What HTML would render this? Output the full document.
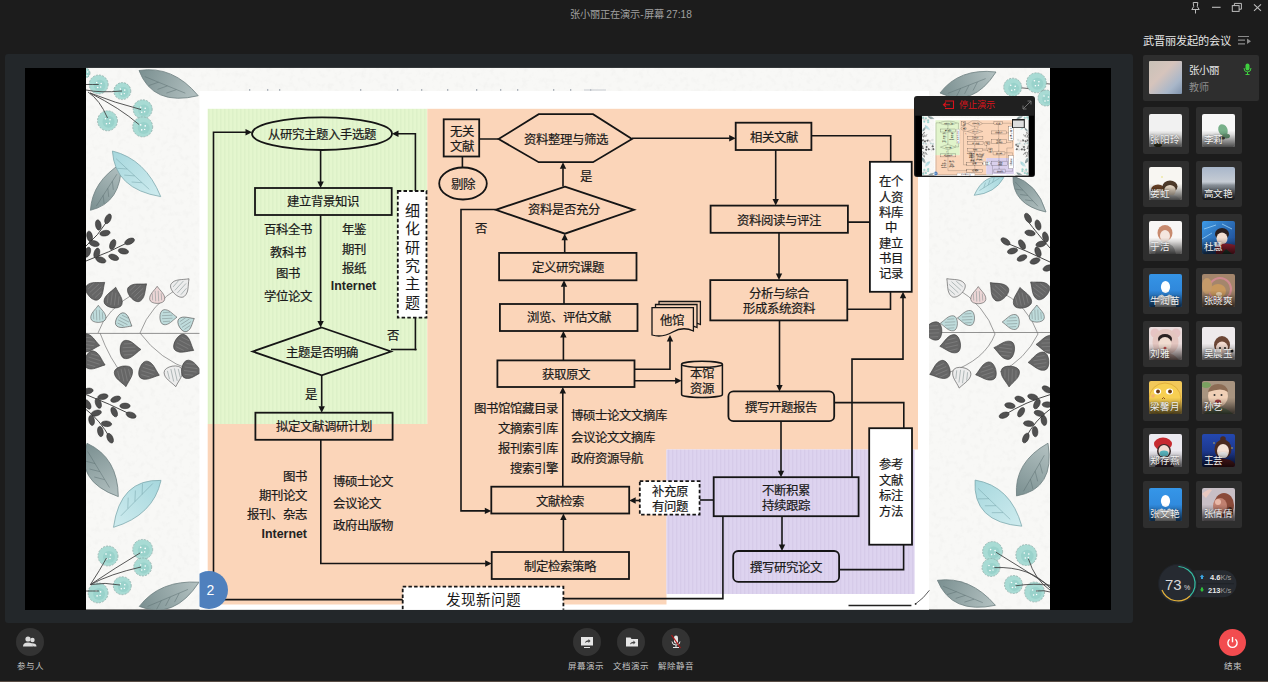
<!DOCTYPE html>
<html lang="zh-CN"><head><meta charset="utf-8"><title>meeting</title>
<style>
html,body{margin:0;padding:0;}
body{width:1268px;height:682px;overflow:hidden;background:#1c1c1c;position:relative;font-family:"Liberation Sans", sans-serif;}
.abs{position:absolute;}
#panel{left:5px;top:54.3px;width:1128px;height:569.2px;background:#23272a;border-radius:3px;}
#black{left:25px;top:67.7px;width:1086px;height:542px;background:#000;}
#slide{left:0;top:0;}

.tile{width:46px;height:46.5px;background:#2e2e2e;border-radius:2px;}
.av{position:absolute;left:6.3px;top:6.6px;width:33px;height:33px;border-radius:2px;overflow:hidden;}
.nm{position:absolute;left:7.5px;top:25px;width:40px;color:#f2f2f2;font-size:9.6px;white-space:nowrap;text-shadow:0 0 2px rgba(0,0,0,.6);letter-spacing:-0.3px;}
.side-ttl{left:1143px;top:31.5px;color:#e6e6e6;font-size:11.2px;}
#host{left:1142.7px;top:54.5px;width:116px;height:46.2px;background:#2e2e2e;border-radius:2px;}
.btn{width:28px;height:28px;border-radius:50%;background:#333;}
.lbl{color:#c4c4c4;font-size:8.5px;text-align:center;width:60px;}
#ov{left:913.7px;top:95.9px;width:121.7px;height:81.2px;background:#202020;border-radius:3px;}
.ttl{left:-3px;top:5.5px;width:1268px;text-align:center;color:#a0a0a0;font-size:10.2px;}
</style></head><body>
<div class="abs ttl">张小丽正在演示-屏幕 27:18</div>
<div class="abs" style="left:0;top:681px;width:1268px;height:1px;background:#574c44"></div>
<div class="abs" id="panel"></div>
<div class="abs" id="black"></div>
<svg class="abs" id="slide" width="1268" height="682" viewBox="0 0 1268 682" style="font-family:"Liberation Sans", sans-serif">
<defs><clipPath id="slc"><rect x="86" y="67.7" width="964" height="542"/></clipPath></defs>
<g id="sl" clip-path="url(#slc)">
<defs><pattern id="gst" width="4" height="10" patternUnits="userSpaceOnUse"><rect width="4" height="10" fill="#e4f6ce"/><rect width="1.5" height="10" fill="#ddf1c8"/></pattern><pattern id="pst" width="4" height="10" patternUnits="userSpaceOnUse"><rect width="4" height="10" fill="#ddd3ef"/><rect width="1.3" height="10" fill="#d6cbe9"/></pattern><filter id="tex" x="0" y="0" width="100%" height="100%"><feTurbulence type="fractalNoise" baseFrequency="0.18" numOctaves="3" seed="3"/><feColorMatrix values="0 0 0 0 0  0 0 0 0 0  0 0 0 0 0  0 0 0 -0.9 0.5"/></filter></defs>
<rect x="86" y="67.7" width="964" height="542" fill="#f8f8f6"/>
<rect x="86" y="67.7" width="964" height="542" filter="url(#tex)" opacity="0.05"/>
<circle cx="98.7" cy="84.5" r="9.5" fill="#a8dbd4" stroke="#8aa8a4" stroke-width="0.7" stroke-dasharray="2,1.2"/>
<circle cx="99.7" cy="85.5" r="5.7" fill="#93cfc7" opacity="0.7"/>
<circle cx="96.7" cy="82.5" r="0.8" fill="#fff"/><circle cx="101.2" cy="83.5" r="0.8" fill="#fff"/><circle cx="97.7" cy="87.5" r="0.8" fill="#fff"/><circle cx="100.7" cy="87.0" r="0.7" fill="#fff"/>
<circle cx="122.3" cy="91.1" r="8.5" fill="#a8dbd4" stroke="#8aa8a4" stroke-width="0.7" stroke-dasharray="2,1.2"/>
<circle cx="123.3" cy="92.1" r="5.1" fill="#93cfc7" opacity="0.7"/>
<circle cx="120.3" cy="89.1" r="0.8" fill="#fff"/><circle cx="124.8" cy="90.1" r="0.8" fill="#fff"/><circle cx="121.3" cy="94.1" r="0.8" fill="#fff"/><circle cx="124.3" cy="93.6" r="0.7" fill="#fff"/>
<circle cx="142.7" cy="109.3" r="9.5" fill="#a8dbd4" stroke="#8aa8a4" stroke-width="0.7" stroke-dasharray="2,1.2"/>
<circle cx="143.7" cy="110.3" r="5.7" fill="#93cfc7" opacity="0.7"/>
<circle cx="140.7" cy="107.3" r="0.8" fill="#fff"/><circle cx="145.2" cy="108.3" r="0.8" fill="#fff"/><circle cx="141.7" cy="112.3" r="0.8" fill="#fff"/><circle cx="144.7" cy="111.8" r="0.7" fill="#fff"/>
<circle cx="107.5" cy="120.8" r="10" fill="#a8dbd4" stroke="#8aa8a4" stroke-width="0.7" stroke-dasharray="2,1.2"/>
<circle cx="108.5" cy="121.8" r="6.0" fill="#93cfc7" opacity="0.7"/>
<circle cx="105.5" cy="118.8" r="0.8" fill="#fff"/><circle cx="110.0" cy="119.8" r="0.8" fill="#fff"/><circle cx="106.5" cy="123.8" r="0.8" fill="#fff"/><circle cx="109.5" cy="123.3" r="0.7" fill="#fff"/>
<circle cx="142.7" cy="126.9" r="10" fill="#a8dbd4" stroke="#8aa8a4" stroke-width="0.7" stroke-dasharray="2,1.2"/>
<circle cx="143.7" cy="127.9" r="6.0" fill="#93cfc7" opacity="0.7"/>
<circle cx="140.7" cy="124.9" r="0.8" fill="#fff"/><circle cx="145.2" cy="125.9" r="0.8" fill="#fff"/><circle cx="141.7" cy="129.9" r="0.8" fill="#fff"/><circle cx="144.7" cy="129.4" r="0.7" fill="#fff"/>
<circle cx="85" cy="73" r="5" fill="#a8dbd4" stroke="#8aa8a4" stroke-width="0.7" stroke-dasharray="2,1.2"/>
<circle cx="86" cy="74" r="3.0" fill="#93cfc7" opacity="0.7"/>
<circle cx="83" cy="71" r="0.8" fill="#fff"/><circle cx="87.5" cy="72" r="0.8" fill="#fff"/><circle cx="84" cy="76" r="0.8" fill="#fff"/><circle cx="87" cy="75.5" r="0.7" fill="#fff"/>
<path d="M86.0,84.5 Q92.0,84.5 98.7,84.5" fill="none" stroke="#444" stroke-width="0.9"/>
<path d="M86.0,90.0 Q100.0,93.0 122.0,91.0" fill="none" stroke="#444" stroke-width="0.9"/>
<path d="M88.0,92.0 Q100.0,100.0 107.5,118.0" fill="none" stroke="#444" stroke-width="0.9"/>
<path d="M90.0,93.0 Q115.0,103.0 141.0,109.5" fill="none" stroke="#444" stroke-width="0.9"/>
<path d="M90.0,93.0 Q120.0,108.0 139.0,124.5" fill="none" stroke="#444" stroke-width="0.9"/>
<defs><linearGradient id="lg1" gradientUnits="userSpaceOnUse" x1="139" y1="70.5" x2="198.2" y2="95.7"><stop offset="0" stop-color="#7a8f90"/><stop offset="1" stop-color="#b4c2c2"/></linearGradient></defs>
<path d="M139.0,70.5 Q152.9,106.8 198.2,95.7 Q172.8,65.1 139.0,70.5 Z" fill="url(#lg1)" stroke="#6d7f80" stroke-width="0.8"/>
<path d="M144.8,76.6 L185.3,93.2 M158.5,82.2 L148.7,85.6 M167.4,85.9 L157.5,89.4 M176.3,89.7 L166.4,93.1" stroke="#5b6e70" stroke-width="0.6" fill="none" opacity="0.8"/>
<defs><linearGradient id="lg2" gradientUnits="userSpaceOnUse" x1="90.4" y1="210.3" x2="121.2" y2="163.6"><stop offset="0" stop-color="#7a8f90"/><stop offset="1" stop-color="#b4c2c2"/></linearGradient></defs>
<path d="M90.4,210.3 Q121.7,202.8 121.2,163.6 Q92.3,181.4 90.4,210.3 Z" fill="url(#lg2)" stroke="#6d7f80" stroke-width="0.8"/>
<path d="M96.3,206.1 L116.9,174.2 M103.2,195.3 L104.1,203.9 M107.8,188.3 L108.7,196.9 M112.4,181.3 L113.3,189.9" stroke="#5b6e70" stroke-width="0.6" fill="none" opacity="0.8"/>
<defs><linearGradient id="lg3" gradientUnits="userSpaceOnUse" x1="112.4" y1="151" x2="160.7" y2="196.6"><stop offset="0" stop-color="#a6d7dd"/><stop offset="1" stop-color="#cfecef"/></linearGradient></defs>
<path d="M112.4,151.0 Q114.8,189.1 160.7,196.6 Q145.7,159.2 112.4,151.0 Z" fill="url(#lg3)" stroke="#7fa9ae" stroke-width="0.8"/>
<path d="M116.1,158.7 L149.3,189.4 M127.3,169.0 L117.1,168.3 M134.6,175.9 L124.3,175.1 M141.8,182.7 L131.6,182.0" stroke="#6f9ea4" stroke-width="0.6" fill="none" opacity="0.8"/>
<path d="M86,246 Q98,236 108,220" fill="none" stroke="#333" stroke-width="0.9"/>
<ellipse cx="108.0" cy="218.8" rx="5.2" ry="2.8" transform="rotate(-65 108.0 218.8)" fill="#505050" stroke="#2a2a2a" stroke-width="0.5"/>
<ellipse cx="98.3" cy="225.0" rx="5.2" ry="2.8" transform="rotate(-100 98.3 225.0)" fill="#505050" stroke="#2a2a2a" stroke-width="0.5"/>
<ellipse cx="105.0" cy="233.2" rx="5.2" ry="2.8" transform="rotate(-10 105.0 233.2)" fill="#505050" stroke="#2a2a2a" stroke-width="0.5"/>
<ellipse cx="89.6" cy="236.3" rx="5.2" ry="2.8" transform="rotate(-100 89.6 236.3)" fill="#505050" stroke="#2a2a2a" stroke-width="0.5"/>
<ellipse cx="94.2" cy="243.5" rx="5.2" ry="2.8" transform="rotate(15 94.2 243.5)" fill="#505050" stroke="#2a2a2a" stroke-width="0.5"/>
<path d="M86,261 Q110,252 129,242" fill="none" stroke="#333" stroke-width="0.9"/>
<ellipse cx="129.6" cy="241.4" rx="5.2" ry="2.8" transform="rotate(-25 129.6 241.4)" fill="#505050" stroke="#2a2a2a" stroke-width="0.5"/>
<ellipse cx="123.4" cy="251.2" rx="5.2" ry="2.8" transform="rotate(10 123.4 251.2)" fill="#505050" stroke="#2a2a2a" stroke-width="0.5"/>
<ellipse cx="112.7" cy="244.5" rx="5.2" ry="2.8" transform="rotate(-70 112.7 244.5)" fill="#505050" stroke="#2a2a2a" stroke-width="0.5"/>
<ellipse cx="113.7" cy="257.3" rx="5.2" ry="2.8" transform="rotate(20 113.7 257.3)" fill="#505050" stroke="#2a2a2a" stroke-width="0.5"/>
<ellipse cx="96.8" cy="253.2" rx="5.2" ry="2.8" transform="rotate(-75 96.8 253.2)" fill="#505050" stroke="#2a2a2a" stroke-width="0.5"/>
<ellipse cx="100.9" cy="259.9" rx="5.2" ry="2.8" transform="rotate(20 100.9 259.9)" fill="#505050" stroke="#2a2a2a" stroke-width="0.5"/>
<ellipse cx="87.5" cy="252.2" rx="5.2" ry="2.8" transform="rotate(-70 87.5 252.2)" fill="#505050" stroke="#2a2a2a" stroke-width="0.5"/>
<path d="M86,333.4 L200,333.4" stroke="#777" stroke-width="0.8"/>
<path d="M98.0,333.0 Q105.0,310.0 138.0,291.0" fill="none" stroke="#777" stroke-width="0.7"/>
<path d="M140.0,333.0 Q150.0,305.0 181.0,286.0" fill="none" stroke="#777" stroke-width="0.7"/>
<path d="M100.0,333.0 Q110.0,360.0 124.0,376.0" fill="none" stroke="#777" stroke-width="0.7"/>
<path d="M140.0,333.0 Q160.0,360.0 191.0,370.0" fill="none" stroke="#777" stroke-width="0.7"/>
<path d="M10.93,0 C4.86,-4.25 1.21,-9.71 -4.86,-9.11 C-11.54,-8.50 -11.54,8.50 -4.86,9.11 C1.21,9.71 4.86,4.25 10.93,0 Z" transform="translate(96.3 289.4) rotate(-40)" fill="#666666" stroke="#3a3a3a" stroke-width="0.6"/>
<path d="M-6.1,-5.5 L2.4,-6.1 M-7.3,-1.8 L5.5,-2.4 M-7.3,1.8 L5.5,1.2 M-6.1,5.5 L2.4,4.9" transform="translate(96.3 289.4) rotate(-40)" stroke="#8c8c8c" stroke-width="0.5"/>
<path d="M10.93,0 C4.86,-4.25 1.21,-9.71 -4.86,-9.11 C-11.54,-8.50 -11.54,8.50 -4.86,9.11 C1.21,9.71 4.86,4.25 10.93,0 Z" transform="translate(113.8 298) rotate(-80)" fill="#666666" stroke="#3a3a3a" stroke-width="0.6"/>
<path d="M-6.1,-5.5 L2.4,-6.1 M-7.3,-1.8 L5.5,-2.4 M-7.3,1.8 L5.5,1.2 M-6.1,5.5 L2.4,4.9" transform="translate(113.8 298) rotate(-80)" stroke="#8c8c8c" stroke-width="0.5"/>
<path d="M10.93,0 C4.86,-4.25 1.21,-9.71 -4.86,-9.11 C-11.54,-8.50 -11.54,8.50 -4.86,9.11 C1.21,9.71 4.86,4.25 10.93,0 Z" transform="translate(138.2 290.9) rotate(-40)" fill="#666666" stroke="#3a3a3a" stroke-width="0.6"/>
<path d="M-6.1,-5.5 L2.4,-6.1 M-7.3,-1.8 L5.5,-2.4 M-7.3,1.8 L5.5,1.2 M-6.1,5.5 L2.4,4.9" transform="translate(138.2 290.9) rotate(-40)" stroke="#8c8c8c" stroke-width="0.5"/>
<path d="M9.00,0 C4.00,-3.50 1.00,-8.00 -4.00,-7.50 C-9.50,-7.00 -9.50,7.00 -4.00,7.50 C1.00,8.00 4.00,3.50 9.00,0 Z" transform="translate(157.2 295.3) rotate(-90)" fill="#ecd6d6" stroke="#555" stroke-width="0.6"/>
<path d="M-5.0,-4.5 L2.0,-5.0 M-6.0,-1.5 L4.5,-2.0 M-6.0,1.5 L4.5,1.0 M-5.0,4.5 L2.0,4.0" transform="translate(157.2 295.3) rotate(-90)" stroke="#7a8a8a" stroke-width="0.5"/>
<path d="M10.93,0 C4.86,-4.25 1.21,-9.71 -4.86,-9.11 C-11.54,-8.50 -11.54,8.50 -4.86,9.11 C1.21,9.71 4.86,4.25 10.93,0 Z" transform="translate(181.3 286.5) rotate(-45)" fill="#ececec" stroke="#555" stroke-width="0.6"/>
<path d="M-6.1,-5.5 L2.4,-6.1 M-7.3,-1.8 L5.5,-2.4 M-7.3,1.8 L5.5,1.2 M-6.1,5.5 L2.4,4.9" transform="translate(181.3 286.5) rotate(-45)" stroke="#7a8a8a" stroke-width="0.5"/>
<path d="M9.00,0 C4.00,-3.50 1.00,-8.00 -4.00,-7.50 C-9.50,-7.00 -9.50,7.00 -4.00,7.50 C1.00,8.00 4.00,3.50 9.00,0 Z" transform="translate(98.3 314.3) rotate(-90)" fill="#bfdcdc" stroke="#555" stroke-width="0.6"/>
<path d="M-5.0,-4.5 L2.0,-5.0 M-6.0,-1.5 L4.5,-2.0 M-6.0,1.5 L4.5,1.0 M-5.0,4.5 L2.0,4.0" transform="translate(98.3 314.3) rotate(-90)" stroke="#7a8a8a" stroke-width="0.5"/>
<path d="M9.00,0 C4.00,-3.50 1.00,-8.00 -4.00,-7.50 C-9.50,-7.00 -9.50,7.00 -4.00,7.50 C1.00,8.00 4.00,3.50 9.00,0 Z" transform="translate(124.1 321.6) rotate(30)" fill="#bfdcdc" stroke="#555" stroke-width="0.6"/>
<path d="M-5.0,-4.5 L2.0,-5.0 M-6.0,-1.5 L4.5,-2.0 M-6.0,1.5 L4.5,1.0 M-5.0,4.5 L2.0,4.0" transform="translate(124.1 321.6) rotate(30)" stroke="#7a8a8a" stroke-width="0.5"/>
<path d="M9.00,0 C4.00,-3.50 1.00,-8.00 -4.00,-7.50 C-9.50,-7.00 -9.50,7.00 -4.00,7.50 C1.00,8.00 4.00,3.50 9.00,0 Z" transform="translate(168 317.2) rotate(0)" fill="#bfdcdc" stroke="#555" stroke-width="0.6"/>
<path d="M-5.0,-4.5 L2.0,-5.0 M-6.0,-1.5 L4.5,-2.0 M-6.0,1.5 L4.5,1.0 M-5.0,4.5 L2.0,4.0" transform="translate(168 317.2) rotate(0)" stroke="#7a8a8a" stroke-width="0.5"/>
<path d="M9.00,0 C4.00,-3.50 1.00,-8.00 -4.00,-7.50 C-9.50,-7.00 -9.50,7.00 -4.00,7.50 C1.00,8.00 4.00,3.50 9.00,0 Z" transform="translate(186.5 323) rotate(-30)" fill="#bfdcdc" stroke="#555" stroke-width="0.6"/>
<path d="M-5.0,-4.5 L2.0,-5.0 M-6.0,-1.5 L4.5,-2.0 M-6.0,1.5 L4.5,1.0 M-5.0,4.5 L2.0,4.0" transform="translate(186.5 323) rotate(-30)" stroke="#7a8a8a" stroke-width="0.5"/>
<path d="M10.93,0 C4.86,-4.25 1.21,-9.71 -4.86,-9.11 C-11.54,-8.50 -11.54,8.50 -4.86,9.11 C1.21,9.71 4.86,4.25 10.93,0 Z" transform="translate(89 343.6) rotate(10)" fill="#666666" stroke="#3a3a3a" stroke-width="0.6"/>
<path d="M-6.1,-5.5 L2.4,-6.1 M-7.3,-1.8 L5.5,-2.4 M-7.3,1.8 L5.5,1.2 M-6.1,5.5 L2.4,4.9" transform="translate(89 343.6) rotate(10)" stroke="#8c8c8c" stroke-width="0.5"/>
<path d="M10.93,0 C4.86,-4.25 1.21,-9.71 -4.86,-9.11 C-11.54,-8.50 -11.54,8.50 -4.86,9.11 C1.21,9.71 4.86,4.25 10.93,0 Z" transform="translate(130 349.5) rotate(0)" fill="#666666" stroke="#3a3a3a" stroke-width="0.6"/>
<path d="M-6.1,-5.5 L2.4,-6.1 M-7.3,-1.8 L5.5,-2.4 M-7.3,1.8 L5.5,1.2 M-6.1,5.5 L2.4,4.9" transform="translate(130 349.5) rotate(0)" stroke="#8c8c8c" stroke-width="0.5"/>
<path d="M10.93,0 C4.86,-4.25 1.21,-9.71 -4.86,-9.11 C-11.54,-8.50 -11.54,8.50 -4.86,9.11 C1.21,9.71 4.86,4.25 10.93,0 Z" transform="translate(184.2 345) rotate(30)" fill="#666666" stroke="#3a3a3a" stroke-width="0.6"/>
<path d="M-6.1,-5.5 L2.4,-6.1 M-7.3,-1.8 L5.5,-2.4 M-7.3,1.8 L5.5,1.2 M-6.1,5.5 L2.4,4.9" transform="translate(184.2 345) rotate(30)" stroke="#8c8c8c" stroke-width="0.5"/>
<path d="M10.93,0 C4.86,-4.25 1.21,-9.71 -4.86,-9.11 C-11.54,-8.50 -11.54,8.50 -4.86,9.11 C1.21,9.71 4.86,4.25 10.93,0 Z" transform="translate(94.8 361.2) rotate(20)" fill="#666666" stroke="#3a3a3a" stroke-width="0.6"/>
<path d="M-6.1,-5.5 L2.4,-6.1 M-7.3,-1.8 L5.5,-2.4 M-7.3,1.8 L5.5,1.2 M-6.1,5.5 L2.4,4.9" transform="translate(94.8 361.2) rotate(20)" stroke="#8c8c8c" stroke-width="0.5"/>
<path d="M10.93,0 C4.86,-4.25 1.21,-9.71 -4.86,-9.11 C-11.54,-8.50 -11.54,8.50 -4.86,9.11 C1.21,9.71 4.86,4.25 10.93,0 Z" transform="translate(124.1 375.9) rotate(80)" fill="#666666" stroke="#3a3a3a" stroke-width="0.6"/>
<path d="M-6.1,-5.5 L2.4,-6.1 M-7.3,-1.8 L5.5,-2.4 M-7.3,1.8 L5.5,1.2 M-6.1,5.5 L2.4,4.9" transform="translate(124.1 375.9) rotate(80)" stroke="#8c8c8c" stroke-width="0.5"/>
<path d="M10.93,0 C4.86,-4.25 1.21,-9.71 -4.86,-9.11 C-11.54,-8.50 -11.54,8.50 -4.86,9.11 C1.21,9.71 4.86,4.25 10.93,0 Z" transform="translate(149 371.5) rotate(20)" fill="#666666" stroke="#3a3a3a" stroke-width="0.6"/>
<path d="M-6.1,-5.5 L2.4,-6.1 M-7.3,-1.8 L5.5,-2.4 M-7.3,1.8 L5.5,1.2 M-6.1,5.5 L2.4,4.9" transform="translate(149 371.5) rotate(20)" stroke="#8c8c8c" stroke-width="0.5"/>
<path d="M10.93,0 C4.86,-4.25 1.21,-9.71 -4.86,-9.11 C-11.54,-8.50 -11.54,8.50 -4.86,9.11 C1.21,9.71 4.86,4.25 10.93,0 Z" transform="translate(173.9 375.9) rotate(80)" fill="#ececec" stroke="#555" stroke-width="0.6"/>
<path d="M-6.1,-5.5 L2.4,-6.1 M-7.3,-1.8 L5.5,-2.4 M-7.3,1.8 L5.5,1.2 M-6.1,5.5 L2.4,4.9" transform="translate(173.9 375.9) rotate(80)" stroke="#7a8a8a" stroke-width="0.5"/>
<path d="M10.93,0 C4.86,-4.25 1.21,-9.71 -4.86,-9.11 C-11.54,-8.50 -11.54,8.50 -4.86,9.11 C1.21,9.71 4.86,4.25 10.93,0 Z" transform="translate(191.5 370) rotate(10)" fill="#666666" stroke="#3a3a3a" stroke-width="0.6"/>
<path d="M-6.1,-5.5 L2.4,-6.1 M-7.3,-1.8 L5.5,-2.4 M-7.3,1.8 L5.5,1.2 M-6.1,5.5 L2.4,4.9" transform="translate(191.5 370) rotate(10)" stroke="#8c8c8c" stroke-width="0.5"/>
<path d="M86,394.6 Q110,404 131.1,414.6" fill="none" stroke="#333" stroke-width="0.9"/>
<ellipse cx="131.1" cy="415.1" rx="5.2" ry="2.8" transform="rotate(20 131.1 415.1)" fill="#505050" stroke="#2a2a2a" stroke-width="0.5"/>
<ellipse cx="125.0" cy="405.9" rx="5.2" ry="2.8" transform="rotate(0 125.0 405.9)" fill="#505050" stroke="#2a2a2a" stroke-width="0.5"/>
<ellipse cx="115.7" cy="399.2" rx="5.2" ry="2.8" transform="rotate(-20 115.7 399.2)" fill="#505050" stroke="#2a2a2a" stroke-width="0.5"/>
<ellipse cx="114.2" cy="412.0" rx="5.2" ry="2.8" transform="rotate(65 114.2 412.0)" fill="#505050" stroke="#2a2a2a" stroke-width="0.5"/>
<ellipse cx="102.9" cy="396.7" rx="5.2" ry="2.8" transform="rotate(-10 102.9 396.7)" fill="#505050" stroke="#2a2a2a" stroke-width="0.5"/>
<ellipse cx="98.3" cy="403.3" rx="5.2" ry="2.8" transform="rotate(70 98.3 403.3)" fill="#505050" stroke="#2a2a2a" stroke-width="0.5"/>
<ellipse cx="87.5" cy="404.4" rx="5.2" ry="2.8" transform="rotate(60 87.5 404.4)" fill="#505050" stroke="#2a2a2a" stroke-width="0.5"/>
<ellipse cx="88.0" cy="391.0" rx="5.2" ry="2.8" transform="rotate(-10 88.0 391.0)" fill="#505050" stroke="#2a2a2a" stroke-width="0.5"/>
<path d="M86,409.5 Q100,420 110.1,438.2" fill="none" stroke="#333" stroke-width="0.9"/>
<ellipse cx="110.1" cy="438.2" rx="5.2" ry="2.8" transform="rotate(65 110.1 438.2)" fill="#505050" stroke="#2a2a2a" stroke-width="0.5"/>
<ellipse cx="106.5" cy="423.8" rx="5.2" ry="2.8" transform="rotate(5 106.5 423.8)" fill="#505050" stroke="#2a2a2a" stroke-width="0.5"/>
<ellipse cx="100.4" cy="431.5" rx="5.2" ry="2.8" transform="rotate(80 100.4 431.5)" fill="#505050" stroke="#2a2a2a" stroke-width="0.5"/>
<ellipse cx="96.3" cy="413.1" rx="5.2" ry="2.8" transform="rotate(-15 96.3 413.1)" fill="#505050" stroke="#2a2a2a" stroke-width="0.5"/>
<ellipse cx="91.6" cy="420.3" rx="5.2" ry="2.8" transform="rotate(80 91.6 420.3)" fill="#505050" stroke="#2a2a2a" stroke-width="0.5"/>
<defs><linearGradient id="lg4" gradientUnits="userSpaceOnUse" x1="87" y1="443.3" x2="118.3" y2="496.6"><stop offset="0" stop-color="#7a8f90"/><stop offset="1" stop-color="#b4c2c2"/></linearGradient></defs>
<path d="M87.0,443.3 Q74.3,480.9 118.3,496.6 Q117.9,457.4 87.0,443.3 Z" fill="url(#lg4)" stroke="#6d7f80" stroke-width="0.8"/>
<path d="M87.7,451.5 L109.5,487.5 M95.1,463.6 L84.9,461.0 M99.8,471.6 L89.6,469.0 M104.5,479.6 L94.3,477.0" stroke="#5b6e70" stroke-width="0.6" fill="none" opacity="0.8"/>
<defs><linearGradient id="lg5" gradientUnits="userSpaceOnUse" x1="161" y1="480.4" x2="113.5" y2="527.3"><stop offset="0" stop-color="#a6d7dd"/><stop offset="1" stop-color="#cfecef"/></linearGradient></defs>
<path d="M161.0,480.4 Q120.0,478.8 113.5,527.3 Q153.3,515.4 161.0,480.4 Z" fill="url(#lg5)" stroke="#7fa9ae" stroke-width="0.8"/>
<path d="M152.8,483.5 L120.9,515.8 M142.1,494.5 L142.5,483.5 M134.9,501.5 L135.4,490.5 M127.8,508.5 L128.2,497.6" stroke="#6f9ea4" stroke-width="0.6" fill="none" opacity="0.8"/>
<circle cx="108" cy="556" r="10" fill="#a8dbd4" stroke="#8aa8a4" stroke-width="0.7" stroke-dasharray="2,1.2"/>
<circle cx="109" cy="557" r="6.0" fill="#93cfc7" opacity="0.7"/>
<circle cx="106" cy="554" r="0.8" fill="#fff"/><circle cx="110.5" cy="555" r="0.8" fill="#fff"/><circle cx="107" cy="559" r="0.8" fill="#fff"/><circle cx="110" cy="558.5" r="0.7" fill="#fff"/>
<circle cx="142.7" cy="549.4" r="10" fill="#a8dbd4" stroke="#8aa8a4" stroke-width="0.7" stroke-dasharray="2,1.2"/>
<circle cx="143.7" cy="550.4" r="6.0" fill="#93cfc7" opacity="0.7"/>
<circle cx="140.7" cy="547.4" r="0.8" fill="#fff"/><circle cx="145.2" cy="548.4" r="0.8" fill="#fff"/><circle cx="141.7" cy="552.4" r="0.8" fill="#fff"/><circle cx="144.7" cy="551.9" r="0.7" fill="#fff"/>
<circle cx="142.7" cy="567" r="9" fill="#a8dbd4" stroke="#8aa8a4" stroke-width="0.7" stroke-dasharray="2,1.2"/>
<circle cx="143.7" cy="568" r="5.4" fill="#93cfc7" opacity="0.7"/>
<circle cx="140.7" cy="565" r="0.8" fill="#fff"/><circle cx="145.2" cy="566" r="0.8" fill="#fff"/><circle cx="141.7" cy="570" r="0.8" fill="#fff"/><circle cx="144.7" cy="569.5" r="0.7" fill="#fff"/>
<circle cx="122.3" cy="585.7" r="9" fill="#a8dbd4" stroke="#8aa8a4" stroke-width="0.7" stroke-dasharray="2,1.2"/>
<circle cx="123.3" cy="586.7" r="5.4" fill="#93cfc7" opacity="0.7"/>
<circle cx="120.3" cy="583.7" r="0.8" fill="#fff"/><circle cx="124.8" cy="584.7" r="0.8" fill="#fff"/><circle cx="121.3" cy="588.7" r="0.8" fill="#fff"/><circle cx="124.3" cy="588.2" r="0.7" fill="#fff"/>
<circle cx="98.1" cy="592.9" r="10" fill="#a8dbd4" stroke="#8aa8a4" stroke-width="0.7" stroke-dasharray="2,1.2"/>
<circle cx="99.1" cy="593.9" r="6.0" fill="#93cfc7" opacity="0.7"/>
<circle cx="96.1" cy="590.9" r="0.8" fill="#fff"/><circle cx="100.6" cy="591.9" r="0.8" fill="#fff"/><circle cx="97.1" cy="595.9" r="0.8" fill="#fff"/><circle cx="100.1" cy="595.4" r="0.7" fill="#fff"/>
<path d="M90.4,584.6 Q100.0,570.0 106.5,558.0" fill="none" stroke="#444" stroke-width="0.9"/>
<path d="M90.4,584.6 Q115.0,568.0 140.0,553.0" fill="none" stroke="#444" stroke-width="0.9"/>
<path d="M90.4,584.6 Q110.0,574.0 141.0,567.0" fill="none" stroke="#444" stroke-width="0.9"/>
<path d="M90.4,584.6 Q105.0,582.0 120.0,585.0" fill="none" stroke="#444" stroke-width="0.9"/>
<path d="M86.0,591.0 Q92.0,591.0 99.0,591.0" fill="none" stroke="#444" stroke-width="0.9"/>
<defs><linearGradient id="lg6" gradientUnits="userSpaceOnUse" x1="139.3" y1="606.4" x2="199" y2="582.2"><stop offset="0" stop-color="#7a8f90"/><stop offset="1" stop-color="#b4c2c2"/></linearGradient></defs>
<path d="M139.3,606.4 Q174.1,620.3 199.0,582.2 Q159.8,579.8 139.3,606.4 Z" fill="url(#lg6)" stroke="#6d7f80" stroke-width="0.8"/>
<path d="M147.6,606.4 L188.0,589.4 M161.3,600.6 L156.5,609.5 M170.2,597.0 L165.5,605.9 M179.2,593.3 L174.5,602.2" stroke="#5b6e70" stroke-width="0.6" fill="none" opacity="0.8"/>
<defs><linearGradient id="lg7" gradientUnits="userSpaceOnUse" x1="940" y1="93" x2="996" y2="72"><stop offset="0" stop-color="#7a8f90"/><stop offset="1" stop-color="#b4c2c2"/></linearGradient></defs>
<path d="M940.0,93.0 Q972.6,108.5 996.0,72.0 Q959.3,67.7 940.0,93.0 Z" fill="url(#lg7)" stroke="#6d7f80" stroke-width="0.8"/>
<path d="M947.8,93.4 L985.7,78.6 M960.6,88.3 L956.2,96.9 M969.0,85.2 L964.6,93.8 M977.4,82.0 L973.0,90.6" stroke="#5b6e70" stroke-width="0.6" fill="none" opacity="0.8"/>
<path d="M1050.0,92.0 Q1030.0,88.0 1013.0,87.0" fill="none" stroke="#555" stroke-width="0.9"/>
<path d="M1050.0,84.0 Q1040.0,83.0 1036.0,83.0" fill="none" stroke="#555" stroke-width="0.9"/>
<circle cx="1012.7" cy="87.2" r="9" fill="#a8dbd4" stroke="#8aa8a4" stroke-width="0.7" stroke-dasharray="2,1.2"/>
<circle cx="1013.7" cy="88.2" r="5.4" fill="#93cfc7" opacity="0.7"/>
<circle cx="1010.7" cy="85.2" r="0.8" fill="#fff"/><circle cx="1015.2" cy="86.2" r="0.8" fill="#fff"/><circle cx="1011.7" cy="90.2" r="0.8" fill="#fff"/><circle cx="1014.7" cy="89.7" r="0.7" fill="#fff"/>
<circle cx="1036.4" cy="82.8" r="10" fill="#a8dbd4" stroke="#8aa8a4" stroke-width="0.7" stroke-dasharray="2,1.2"/>
<circle cx="1037.4" cy="83.8" r="6.0" fill="#93cfc7" opacity="0.7"/>
<circle cx="1034.4" cy="80.8" r="0.8" fill="#fff"/><circle cx="1038.9" cy="81.8" r="0.8" fill="#fff"/><circle cx="1035.4" cy="85.8" r="0.8" fill="#fff"/><circle cx="1038.4" cy="85.3" r="0.7" fill="#fff"/>
<circle cx="1046" cy="98" r="8" fill="#a8dbd4" stroke="#8aa8a4" stroke-width="0.7" stroke-dasharray="2,1.2"/>
<circle cx="1047" cy="99" r="4.8" fill="#93cfc7" opacity="0.7"/>
<circle cx="1044" cy="96" r="0.8" fill="#fff"/><circle cx="1048.5" cy="97" r="0.8" fill="#fff"/><circle cx="1045" cy="101" r="0.8" fill="#fff"/><circle cx="1048" cy="100.5" r="0.7" fill="#fff"/>
<defs><linearGradient id="lg8" gradientUnits="userSpaceOnUse" x1="1003.8" y1="177.5" x2="974.2" y2="195.3"><stop offset="0" stop-color="#a6d7dd"/><stop offset="1" stop-color="#cfecef"/></linearGradient></defs>
<path d="M1003.8,177.5 Q984.2,173.0 974.2,195.3 Q995.2,193.3 1003.8,177.5 Z" fill="url(#lg8)" stroke="#7fa9ae" stroke-width="0.8"/>
<path d="M999.4,178.2 L979.4,190.5 M992.6,182.4 L994.4,177.3 M988.2,185.1 L990.0,179.9 M983.8,187.8 L985.5,182.6" stroke="#6f9ea4" stroke-width="0.6" fill="none" opacity="0.8"/>
<defs><linearGradient id="lg9" gradientUnits="userSpaceOnUse" x1="1013" y1="176" x2="1046" y2="212"><stop offset="0" stop-color="#7a8f90"/><stop offset="1" stop-color="#b4c2c2"/></linearGradient></defs>
<path d="M1013.0,176.0 Q1012.1,204.6 1046.0,212.0 Q1037.4,183.4 1013.0,176.0 Z" fill="url(#lg9)" stroke="#6d7f80" stroke-width="0.8"/>
<path d="M1015.2,181.9 L1037.9,206.2 M1022.9,190.1 L1015.3,189.1 M1027.9,195.5 L1020.2,194.5 M1032.8,200.9 L1025.2,199.9" stroke="#5b6e70" stroke-width="0.6" fill="none" opacity="0.8"/>
<path d="M1050,262 Q1025,250 1004,242" fill="none" stroke="#333" stroke-width="0.9"/>
<ellipse cx="1005.5" cy="241.5" rx="5.2" ry="2.8" transform="rotate(35 1005.5 241.5)" fill="#505050" stroke="#2a2a2a" stroke-width="0.5"/>
<ellipse cx="1012.5" cy="251.0" rx="5.2" ry="2.8" transform="rotate(-15 1012.5 251.0)" fill="#505050" stroke="#2a2a2a" stroke-width="0.5"/>
<ellipse cx="1022.0" cy="244.5" rx="5.2" ry="2.8" transform="rotate(60 1022.0 244.5)" fill="#505050" stroke="#2a2a2a" stroke-width="0.5"/>
<ellipse cx="1022.0" cy="258.0" rx="5.2" ry="2.8" transform="rotate(-25 1022.0 258.0)" fill="#505050" stroke="#2a2a2a" stroke-width="0.5"/>
<ellipse cx="1038.0" cy="252.0" rx="5.2" ry="2.8" transform="rotate(70 1038.0 252.0)" fill="#505050" stroke="#2a2a2a" stroke-width="0.5"/>
<ellipse cx="1035.0" cy="261.0" rx="5.2" ry="2.8" transform="rotate(-20 1035.0 261.0)" fill="#505050" stroke="#2a2a2a" stroke-width="0.5"/>
<ellipse cx="1048.0" cy="268.0" rx="5.2" ry="2.8" transform="rotate(-20 1048.0 268.0)" fill="#505050" stroke="#2a2a2a" stroke-width="0.5"/>
<path d="M1050,248 Q1036,232 1028.7,222.3" fill="none" stroke="#333" stroke-width="0.9"/>
<ellipse cx="1028.0" cy="218.0" rx="5.2" ry="2.8" transform="rotate(60 1028.0 218.0)" fill="#505050" stroke="#2a2a2a" stroke-width="0.5"/>
<ellipse cx="1038.0" cy="225.0" rx="5.2" ry="2.8" transform="rotate(75 1038.0 225.0)" fill="#505050" stroke="#2a2a2a" stroke-width="0.5"/>
<ellipse cx="1030.0" cy="233.0" rx="5.2" ry="2.8" transform="rotate(10 1030.0 233.0)" fill="#505050" stroke="#2a2a2a" stroke-width="0.5"/>
<ellipse cx="1045.5" cy="237.0" rx="5.2" ry="2.8" transform="rotate(75 1045.5 237.0)" fill="#505050" stroke="#2a2a2a" stroke-width="0.5"/>
<ellipse cx="1041.0" cy="244.0" rx="5.2" ry="2.8" transform="rotate(-15 1041.0 244.0)" fill="#505050" stroke="#2a2a2a" stroke-width="0.5"/>
<path d="M929.5,332.5 L1050,332.5" stroke="#777" stroke-width="0.8"/>
<path d="M995.0,334.0 Q985.0,305.0 955.0,287.0" fill="none" stroke="#777" stroke-width="0.7"/>
<path d="M1038.0,334.0 Q1028.0,305.0 998.0,290.0" fill="none" stroke="#777" stroke-width="0.7"/>
<path d="M995.0,334.0 Q985.0,360.0 950.0,372.0" fill="none" stroke="#777" stroke-width="0.7"/>
<path d="M1038.0,334.0 Q1025.0,360.0 1000.0,372.0" fill="none" stroke="#777" stroke-width="0.7"/>
<path d="M10.93,0 C4.86,-4.25 1.21,-9.71 -4.86,-9.11 C-11.54,-8.50 -11.54,8.50 -4.86,9.11 C1.21,9.71 4.86,4.25 10.93,0 Z" transform="translate(954.5 286.4) rotate(-135)" fill="#ececec" stroke="#555" stroke-width="0.6"/>
<path d="M-6.1,-5.5 L2.4,-6.1 M-7.3,-1.8 L5.5,-2.4 M-7.3,1.8 L5.5,1.2 M-6.1,5.5 L2.4,4.9" transform="translate(954.5 286.4) rotate(-135)" stroke="#7a8a8a" stroke-width="0.5"/>
<path d="M9.00,0 C4.00,-3.50 1.00,-8.00 -4.00,-7.50 C-9.50,-7.00 -9.50,7.00 -4.00,7.50 C1.00,8.00 4.00,3.50 9.00,0 Z" transform="translate(978.3 295.6) rotate(-90)" fill="#ecd6d6" stroke="#555" stroke-width="0.6"/>
<path d="M-5.0,-4.5 L2.0,-5.0 M-6.0,-1.5 L4.5,-2.0 M-6.0,1.5 L4.5,1.0 M-5.0,4.5 L2.0,4.0" transform="translate(978.3 295.6) rotate(-90)" stroke="#7a8a8a" stroke-width="0.5"/>
<path d="M10.93,0 C4.86,-4.25 1.21,-9.71 -4.86,-9.11 C-11.54,-8.50 -11.54,8.50 -4.86,9.11 C1.21,9.71 4.86,4.25 10.93,0 Z" transform="translate(998 290.3) rotate(-135)" fill="#666666" stroke="#3a3a3a" stroke-width="0.6"/>
<path d="M-6.1,-5.5 L2.4,-6.1 M-7.3,-1.8 L5.5,-2.4 M-7.3,1.8 L5.5,1.2 M-6.1,5.5 L2.4,4.9" transform="translate(998 290.3) rotate(-135)" stroke="#8c8c8c" stroke-width="0.5"/>
<path d="M10.93,0 C4.86,-4.25 1.21,-9.71 -4.86,-9.11 C-11.54,-8.50 -11.54,8.50 -4.86,9.11 C1.21,9.71 4.86,4.25 10.93,0 Z" transform="translate(1021.8 298.2) rotate(-100)" fill="#666666" stroke="#3a3a3a" stroke-width="0.6"/>
<path d="M-6.1,-5.5 L2.4,-6.1 M-7.3,-1.8 L5.5,-2.4 M-7.3,1.8 L5.5,1.2 M-6.1,5.5 L2.4,4.9" transform="translate(1021.8 298.2) rotate(-100)" stroke="#8c8c8c" stroke-width="0.5"/>
<path d="M10.93,0 C4.86,-4.25 1.21,-9.71 -4.86,-9.11 C-11.54,-8.50 -11.54,8.50 -4.86,9.11 C1.21,9.71 4.86,4.25 10.93,0 Z" transform="translate(1039 289) rotate(-140)" fill="#666666" stroke="#3a3a3a" stroke-width="0.6"/>
<path d="M-6.1,-5.5 L2.4,-6.1 M-7.3,-1.8 L5.5,-2.4 M-7.3,1.8 L5.5,1.2 M-6.1,5.5 L2.4,4.9" transform="translate(1039 289) rotate(-140)" stroke="#8c8c8c" stroke-width="0.5"/>
<path d="M9.00,0 C4.00,-3.50 1.00,-8.00 -4.00,-7.50 C-9.50,-7.00 -9.50,7.00 -4.00,7.50 C1.00,8.00 4.00,3.50 9.00,0 Z" transform="translate(949.3 323.3) rotate(180)" fill="#bfdcdc" stroke="#555" stroke-width="0.6"/>
<path d="M-5.0,-4.5 L2.0,-5.0 M-6.0,-1.5 L4.5,-2.0 M-6.0,1.5 L4.5,1.0 M-5.0,4.5 L2.0,4.0" transform="translate(949.3 323.3) rotate(180)" stroke="#7a8a8a" stroke-width="0.5"/>
<path d="M9.00,0 C4.00,-3.50 1.00,-8.00 -4.00,-7.50 C-9.50,-7.00 -9.50,7.00 -4.00,7.50 C1.00,8.00 4.00,3.50 9.00,0 Z" transform="translate(966.4 318) rotate(180)" fill="#bfdcdc" stroke="#555" stroke-width="0.6"/>
<path d="M-5.0,-4.5 L2.0,-5.0 M-6.0,-1.5 L4.5,-2.0 M-6.0,1.5 L4.5,1.0 M-5.0,4.5 L2.0,4.0" transform="translate(966.4 318) rotate(180)" stroke="#7a8a8a" stroke-width="0.5"/>
<path d="M9.00,0 C4.00,-3.50 1.00,-8.00 -4.00,-7.50 C-9.50,-7.00 -9.50,7.00 -4.00,7.50 C1.00,8.00 4.00,3.50 9.00,0 Z" transform="translate(1011.2 322) rotate(180)" fill="#bfdcdc" stroke="#555" stroke-width="0.6"/>
<path d="M-5.0,-4.5 L2.0,-5.0 M-6.0,-1.5 L4.5,-2.0 M-6.0,1.5 L4.5,1.0 M-5.0,4.5 L2.0,4.0" transform="translate(1011.2 322) rotate(180)" stroke="#7a8a8a" stroke-width="0.5"/>
<path d="M9.00,0 C4.00,-3.50 1.00,-8.00 -4.00,-7.50 C-9.50,-7.00 -9.50,7.00 -4.00,7.50 C1.00,8.00 4.00,3.50 9.00,0 Z" transform="translate(1036.8 314) rotate(-90)" fill="#bfdcdc" stroke="#555" stroke-width="0.6"/>
<path d="M-5.0,-4.5 L2.0,-5.0 M-6.0,-1.5 L4.5,-2.0 M-6.0,1.5 L4.5,1.0 M-5.0,4.5 L2.0,4.0" transform="translate(1036.8 314) rotate(-90)" stroke="#7a8a8a" stroke-width="0.5"/>
<path d="M10.93,0 C4.86,-4.25 1.21,-9.71 -4.86,-9.11 C-11.54,-8.50 -11.54,8.50 -4.86,9.11 C1.21,9.71 4.86,4.25 10.93,0 Z" transform="translate(932 331) rotate(180)" fill="#666666" stroke="#3a3a3a" stroke-width="0.6"/>
<path d="M-6.1,-5.5 L2.4,-6.1 M-7.3,-1.8 L5.5,-2.4 M-7.3,1.8 L5.5,1.2 M-6.1,5.5 L2.4,4.9" transform="translate(932 331) rotate(180)" stroke="#8c8c8c" stroke-width="0.5"/>
<path d="M10.93,0 C4.86,-4.25 1.21,-9.71 -4.86,-9.11 C-11.54,-8.50 -11.54,8.50 -4.86,9.11 C1.21,9.71 4.86,4.25 10.93,0 Z" transform="translate(950.6 344.4) rotate(170)" fill="#666666" stroke="#3a3a3a" stroke-width="0.6"/>
<path d="M-6.1,-5.5 L2.4,-6.1 M-7.3,-1.8 L5.5,-2.4 M-7.3,1.8 L5.5,1.2 M-6.1,5.5 L2.4,4.9" transform="translate(950.6 344.4) rotate(170)" stroke="#8c8c8c" stroke-width="0.5"/>
<path d="M10.93,0 C4.86,-4.25 1.21,-9.71 -4.86,-9.11 C-11.54,-8.50 -11.54,8.50 -4.86,9.11 C1.21,9.71 4.86,4.25 10.93,0 Z" transform="translate(1004.6 349.6) rotate(-170)" fill="#666666" stroke="#3a3a3a" stroke-width="0.6"/>
<path d="M-6.1,-5.5 L2.4,-6.1 M-7.3,-1.8 L5.5,-2.4 M-7.3,1.8 L5.5,1.2 M-6.1,5.5 L2.4,4.9" transform="translate(1004.6 349.6) rotate(-170)" stroke="#8c8c8c" stroke-width="0.5"/>
<path d="M10.93,0 C4.86,-4.25 1.21,-9.71 -4.86,-9.11 C-11.54,-8.50 -11.54,8.50 -4.86,9.11 C1.21,9.71 4.86,4.25 10.93,0 Z" transform="translate(940 370.7) rotate(160)" fill="#666666" stroke="#3a3a3a" stroke-width="0.6"/>
<path d="M-6.1,-5.5 L2.4,-6.1 M-7.3,-1.8 L5.5,-2.4 M-7.3,1.8 L5.5,1.2 M-6.1,5.5 L2.4,4.9" transform="translate(940 370.7) rotate(160)" stroke="#8c8c8c" stroke-width="0.5"/>
<path d="M10.93,0 C4.86,-4.25 1.21,-9.71 -4.86,-9.11 C-11.54,-8.50 -11.54,8.50 -4.86,9.11 C1.21,9.71 4.86,4.25 10.93,0 Z" transform="translate(961.1 377.3) rotate(100)" fill="#ececec" stroke="#555" stroke-width="0.6"/>
<path d="M-6.1,-5.5 L2.4,-6.1 M-7.3,-1.8 L5.5,-2.4 M-7.3,1.8 L5.5,1.2 M-6.1,5.5 L2.4,4.9" transform="translate(961.1 377.3) rotate(100)" stroke="#7a8a8a" stroke-width="0.5"/>
<path d="M10.93,0 C4.86,-4.25 1.21,-9.71 -4.86,-9.11 C-11.54,-8.50 -11.54,8.50 -4.86,9.11 C1.21,9.71 4.86,4.25 10.93,0 Z" transform="translate(986.2 372) rotate(165)" fill="#666666" stroke="#3a3a3a" stroke-width="0.6"/>
<path d="M-6.1,-5.5 L2.4,-6.1 M-7.3,-1.8 L5.5,-2.4 M-7.3,1.8 L5.5,1.2 M-6.1,5.5 L2.4,4.9" transform="translate(986.2 372) rotate(165)" stroke="#8c8c8c" stroke-width="0.5"/>
<path d="M10.93,0 C4.86,-4.25 1.21,-9.71 -4.86,-9.11 C-11.54,-8.50 -11.54,8.50 -4.86,9.11 C1.21,9.71 4.86,4.25 10.93,0 Z" transform="translate(1010 376) rotate(95)" fill="#666666" stroke="#3a3a3a" stroke-width="0.6"/>
<path d="M-6.1,-5.5 L2.4,-6.1 M-7.3,-1.8 L5.5,-2.4 M-7.3,1.8 L5.5,1.2 M-6.1,5.5 L2.4,4.9" transform="translate(1010 376) rotate(95)" stroke="#8c8c8c" stroke-width="0.5"/>
<path d="M10.93,0 C4.86,-4.25 1.21,-9.71 -4.86,-9.11 C-11.54,-8.50 -11.54,8.50 -4.86,9.11 C1.21,9.71 4.86,4.25 10.93,0 Z" transform="translate(1039 361.5) rotate(175)" fill="#666666" stroke="#3a3a3a" stroke-width="0.6"/>
<path d="M-6.1,-5.5 L2.4,-6.1 M-7.3,-1.8 L5.5,-2.4 M-7.3,1.8 L5.5,1.2 M-6.1,5.5 L2.4,4.9" transform="translate(1039 361.5) rotate(175)" stroke="#8c8c8c" stroke-width="0.5"/>
<path d="M10.93,0 C4.86,-4.25 1.21,-9.71 -4.86,-9.11 C-11.54,-8.50 -11.54,8.50 -4.86,9.11 C1.21,9.71 4.86,4.25 10.93,0 Z" transform="translate(1047 344.4) rotate(180)" fill="#666666" stroke="#3a3a3a" stroke-width="0.6"/>
<path d="M-6.1,-5.5 L2.4,-6.1 M-7.3,-1.8 L5.5,-2.4 M-7.3,1.8 L5.5,1.2 M-6.1,5.5 L2.4,4.9" transform="translate(1047 344.4) rotate(180)" stroke="#8c8c8c" stroke-width="0.5"/>
<path d="M1050,394.7 Q1025,402 1004,415.2" fill="none" stroke="#333" stroke-width="0.9"/>
<ellipse cx="1004.1" cy="415.2" rx="5.2" ry="2.8" transform="rotate(-20 1004.1 415.2)" fill="#505050" stroke="#2a2a2a" stroke-width="0.5"/>
<ellipse cx="1009.9" cy="405.6" rx="5.2" ry="2.8" transform="rotate(10 1009.9 405.6)" fill="#505050" stroke="#2a2a2a" stroke-width="0.5"/>
<ellipse cx="1019.9" cy="399.3" rx="5.2" ry="2.8" transform="rotate(20 1019.9 399.3)" fill="#505050" stroke="#2a2a2a" stroke-width="0.5"/>
<ellipse cx="1021.1" cy="412.2" rx="5.2" ry="2.8" transform="rotate(-60 1021.1 412.2)" fill="#505050" stroke="#2a2a2a" stroke-width="0.5"/>
<ellipse cx="1032.8" cy="397.0" rx="5.2" ry="2.8" transform="rotate(15 1032.8 397.0)" fill="#505050" stroke="#2a2a2a" stroke-width="0.5"/>
<ellipse cx="1036.9" cy="404.0" rx="5.2" ry="2.8" transform="rotate(-65 1036.9 404.0)" fill="#505050" stroke="#2a2a2a" stroke-width="0.5"/>
<ellipse cx="1046.9" cy="389.4" rx="5.2" ry="2.8" transform="rotate(30 1046.9 389.4)" fill="#505050" stroke="#2a2a2a" stroke-width="0.5"/>
<path d="M1050,409.3 Q1035,420 1025.2,438.6" fill="none" stroke="#333" stroke-width="0.9"/>
<ellipse cx="1025.8" cy="438.0" rx="5.2" ry="2.8" transform="rotate(-65 1025.8 438.0)" fill="#505050" stroke="#2a2a2a" stroke-width="0.5"/>
<ellipse cx="1035.1" cy="431.6" rx="5.2" ry="2.8" transform="rotate(-95 1035.1 431.6)" fill="#505050" stroke="#2a2a2a" stroke-width="0.5"/>
<ellipse cx="1028.7" cy="423.6" rx="5.2" ry="2.8" transform="rotate(5 1028.7 423.6)" fill="#505050" stroke="#2a2a2a" stroke-width="0.5"/>
<ellipse cx="1043.9" cy="420.4" rx="5.2" ry="2.8" transform="rotate(-100 1043.9 420.4)" fill="#505050" stroke="#2a2a2a" stroke-width="0.5"/>
<ellipse cx="1039.2" cy="413.4" rx="5.2" ry="2.8" transform="rotate(15 1039.2 413.4)" fill="#505050" stroke="#2a2a2a" stroke-width="0.5"/>
<ellipse cx="1047.4" cy="404.6" rx="5.2" ry="2.8" transform="rotate(0 1047.4 404.6)" fill="#505050" stroke="#2a2a2a" stroke-width="0.5"/>
<defs><linearGradient id="lg10" gradientUnits="userSpaceOnUse" x1="1016.5" y1="495.9" x2="1048" y2="443.2"><stop offset="0" stop-color="#7a8f90"/><stop offset="1" stop-color="#b4c2c2"/></linearGradient></defs>
<path d="M1016.5,495.9 Q1055.5,489.2 1048.0,443.2 Q1013.9,462.2 1016.5,495.9 Z" fill="url(#lg10)" stroke="#6d7f80" stroke-width="0.8"/>
<path d="M1023.4,491.4 L1044.3,455.3 M1030.4,479.1 L1033.0,489.3 M1035.1,471.2 L1037.7,481.4 M1039.8,463.3 L1042.5,473.5" stroke="#5b6e70" stroke-width="0.6" fill="none" opacity="0.8"/>
<defs><linearGradient id="lg11" gradientUnits="userSpaceOnUse" x1="975.1" y1="480.1" x2="1021.8" y2="526.2"><stop offset="0" stop-color="#a6d7dd"/><stop offset="1" stop-color="#cfecef"/></linearGradient></defs>
<path d="M975.1,480.1 Q972.2,522.2 1021.8,526.2 Q1010.7,486.0 975.1,480.1 Z" fill="url(#lg11)" stroke="#7fa9ae" stroke-width="0.8"/>
<path d="M978.0,488.4 L1010.2,519.3 M989.0,498.7 L977.7,498.9 M996.0,505.7 L984.8,505.8 M1003.0,512.6 L991.8,512.7" stroke="#6f9ea4" stroke-width="0.6" fill="none" opacity="0.8"/>
<circle cx="992.6" cy="551.6" r="10" fill="#a8dbd4" stroke="#8aa8a4" stroke-width="0.7" stroke-dasharray="2,1.2"/>
<circle cx="993.6" cy="552.6" r="6.0" fill="#93cfc7" opacity="0.7"/>
<circle cx="990.6" cy="549.6" r="0.8" fill="#fff"/><circle cx="995.1" cy="550.6" r="0.8" fill="#fff"/><circle cx="991.6" cy="554.6" r="0.8" fill="#fff"/><circle cx="994.6" cy="554.1" r="0.7" fill="#fff"/>
<circle cx="991" cy="567.5" r="9" fill="#a8dbd4" stroke="#8aa8a4" stroke-width="0.7" stroke-dasharray="2,1.2"/>
<circle cx="992" cy="568.5" r="5.4" fill="#93cfc7" opacity="0.7"/>
<circle cx="989" cy="565.5" r="0.8" fill="#fff"/><circle cx="993.5" cy="566.5" r="0.8" fill="#fff"/><circle cx="990" cy="570.5" r="0.8" fill="#fff"/><circle cx="993" cy="570.0" r="0.7" fill="#fff"/>
<circle cx="1026.3" cy="555" r="10.5" fill="#a8dbd4" stroke="#8aa8a4" stroke-width="0.7" stroke-dasharray="2,1.2"/>
<circle cx="1027.3" cy="556" r="6.3" fill="#93cfc7" opacity="0.7"/>
<circle cx="1024.3" cy="553" r="0.8" fill="#fff"/><circle cx="1028.8" cy="554" r="0.8" fill="#fff"/><circle cx="1025.3" cy="558" r="0.8" fill="#fff"/><circle cx="1028.3" cy="557.5" r="0.7" fill="#fff"/>
<circle cx="1013.5" cy="584.5" r="9" fill="#a8dbd4" stroke="#8aa8a4" stroke-width="0.7" stroke-dasharray="2,1.2"/>
<circle cx="1014.5" cy="585.5" r="5.4" fill="#93cfc7" opacity="0.7"/>
<circle cx="1011.5" cy="582.5" r="0.8" fill="#fff"/><circle cx="1016.0" cy="583.5" r="0.8" fill="#fff"/><circle cx="1012.5" cy="587.5" r="0.8" fill="#fff"/><circle cx="1015.5" cy="587.0" r="0.7" fill="#fff"/>
<circle cx="1034.6" cy="592" r="10" fill="#a8dbd4" stroke="#8aa8a4" stroke-width="0.7" stroke-dasharray="2,1.2"/>
<circle cx="1035.6" cy="593" r="6.0" fill="#93cfc7" opacity="0.7"/>
<circle cx="1032.6" cy="590" r="0.8" fill="#fff"/><circle cx="1037.1" cy="591" r="0.8" fill="#fff"/><circle cx="1033.6" cy="595" r="0.8" fill="#fff"/><circle cx="1036.6" cy="594.5" r="0.7" fill="#fff"/>
<path d="M996.1,552.3 Q1025.0,570.0 1050.0,586.3" fill="none" stroke="#444" stroke-width="0.9"/>
<path d="M994.4,567.6 Q1030.0,566.0 1050.0,588.0" fill="none" stroke="#444" stroke-width="0.9"/>
<path d="M1028.4,558.8 Q1035.0,580.0 1050.0,590.0" fill="none" stroke="#444" stroke-width="0.9"/>
<path d="M1015.5,585.8 Q1035.0,583.0 1050.0,585.2" fill="none" stroke="#444" stroke-width="0.9"/>
<path d="M1036.0,591.0 Q1045.0,590.0 1050.0,592.0" fill="none" stroke="#444" stroke-width="0.9"/>
<defs><linearGradient id="lg12" gradientUnits="userSpaceOnUse" x1="937.4" y1="580.3" x2="995.4" y2="605.3"><stop offset="0" stop-color="#7a8f90"/><stop offset="1" stop-color="#b4c2c2"/></linearGradient></defs>
<path d="M937.4,580.3 Q951.5,614.7 995.4,605.3 Q970.2,576.0 937.4,580.3 Z" fill="url(#lg12)" stroke="#6d7f80" stroke-width="0.8"/>
<path d="M943.1,586.2 L982.8,602.7 M956.6,591.7 L947.0,594.6 M965.3,595.4 L955.7,598.4 M974.0,599.2 L964.4,602.1" stroke="#5b6e70" stroke-width="0.6" fill="none" opacity="0.8"/>
<rect x="199.5" y="91" width="729.5" height="519" fill="#ffffff"/>
<rect x="207.7" y="108.8" width="219.6" height="315.2" fill="url(#gst)"/>
<rect x="427.3" y="108.8" width="490.7" height="340.7" fill="#fbd5b9"/>
<rect x="207.7" y="424" width="458.8" height="180.5" fill="#fbd5b9"/>
<rect x="666.4" y="449.5" width="248.2" height="144.5" fill="url(#pst)"/>
<rect x="249" y="89.3" width="1.3" height="1.3" fill="#8a93a0"/>
<rect x="267" y="89.3" width="1.3" height="1.3" fill="#8a93a0"/>
<rect x="279" y="89.3" width="1.3" height="1.3" fill="#8a93a0"/>
<rect x="360" y="89.3" width="1.3" height="1.3" fill="#8a93a0"/>
<rect x="397" y="89.3" width="1.3" height="1.3" fill="#8a93a0"/>
<rect x="421" y="89.3" width="1.3" height="1.3" fill="#8a93a0"/>
<rect x="447" y="89.3" width="1.3" height="1.3" fill="#8a93a0"/>
<rect x="476" y="89.3" width="1.3" height="1.3" fill="#8a93a0"/>
<rect x="500" y="89.3" width="1.3" height="1.3" fill="#8a93a0"/>
<rect x="517" y="89.3" width="1.3" height="1.3" fill="#8a93a0"/>
<rect x="553" y="89.3" width="1.3" height="1.3" fill="#8a93a0"/>
<rect x="570" y="89.3" width="1.3" height="1.3" fill="#8a93a0"/>
<rect x="590" y="89.3" width="1.3" height="1.3" fill="#8a93a0"/>
<rect x="584" y="89.5" width="22" height="1" fill="#c8ccd2"/>
<ellipse cx="322" cy="133.7" rx="70" ry="16.3" fill="none" stroke="#151515" stroke-width="1.8"/>
<text x="322.0" y="139.1" font-size="12.4" text-anchor="middle" font-weight="500" fill="#1a1a1a" stroke="#1a1a1a" stroke-width="0.2">从研究主题入手选题</text>
<path d="M320.6,150.0 L320.6,182.0" fill="none" stroke="#151515" stroke-width="1.6"/>
<path d="M320.6,188.0 L317.4,181.5 L323.8,181.5 Z" fill="#151515"/>
<rect x="255.0" y="188.0" width="136.7" height="27.0" rx="0" fill="none" stroke="#151515" stroke-width="1.8"/>
<text x="323.3" y="206.0" font-size="12.4" text-anchor="middle" font-weight="500" fill="#1a1a1a" stroke="#1a1a1a" stroke-width="0.2">建立背景知识</text>
<path d="M213.5,599.6 L213.5,132.3 L246.0,132.3" fill="none" stroke="#151515" stroke-width="1.6"/>
<path d="M252.0,132.3 L245.5,129.1 L245.5,135.5 Z" fill="#151515"/>
<text x="288.0" y="233.9" font-size="12.4" text-anchor="middle" font-weight="500" fill="#1a1a1a" stroke="#1a1a1a" stroke-width="0.2">百科全书</text>
<text x="288.0" y="256.7" font-size="12.4" text-anchor="middle" font-weight="500" fill="#1a1a1a" stroke="#1a1a1a" stroke-width="0.2">教科书</text>
<text x="288.0" y="277.8" font-size="12.4" text-anchor="middle" font-weight="500" fill="#1a1a1a" stroke="#1a1a1a" stroke-width="0.2">图书</text>
<text x="288.0" y="300.7" font-size="12.4" text-anchor="middle" font-weight="500" fill="#1a1a1a" stroke="#1a1a1a" stroke-width="0.2">学位论文</text>
<text x="353.5" y="233.5" font-size="12.4" text-anchor="middle" font-weight="500" fill="#1a1a1a" stroke="#1a1a1a" stroke-width="0.2">年鉴</text>
<text x="353.5" y="253.5" font-size="12.4" text-anchor="middle" font-weight="500" fill="#1a1a1a" stroke="#1a1a1a" stroke-width="0.2">期刊</text>
<text x="353.5" y="272.5" font-size="12.4" text-anchor="middle" font-weight="500" fill="#1a1a1a" stroke="#1a1a1a" stroke-width="0.2">报纸</text>
<text x="353.5" y="290.1" font-size="12.4" text-anchor="middle" font-weight="bold" fill="#222">Internet</text>
<path d="M320.6,215.0 L320.6,321.5" fill="none" stroke="#151515" stroke-width="1.6"/>
<path d="M320.6,327.5 L317.4,321.0 L323.8,321.0 Z" fill="#151515"/>
<rect x="397.8" y="191.0" width="28.7" height="126.6" rx="0" fill="#ffffff" stroke="#151515" stroke-width="1.8" stroke-dasharray="3.5,2.2"/>
<text x="412.0" y="216.1" font-size="15" text-anchor="middle" font-weight="normal" fill="#1a1a1a">细</text>
<text x="412.0" y="234.4" font-size="15" text-anchor="middle" font-weight="normal" fill="#1a1a1a">化</text>
<text x="412.0" y="252.7" font-size="15" text-anchor="middle" font-weight="normal" fill="#1a1a1a">研</text>
<text x="412.0" y="271.0" font-size="15" text-anchor="middle" font-weight="normal" fill="#1a1a1a">究</text>
<text x="412.0" y="289.3" font-size="15" text-anchor="middle" font-weight="normal" fill="#1a1a1a">主</text>
<text x="412.0" y="307.6" font-size="15" text-anchor="middle" font-weight="normal" fill="#1a1a1a">题</text>
<path d="M415.4,191.0 L415.4,133.8 L398.0,133.8" fill="none" stroke="#151515" stroke-width="1.6"/>
<path d="M392.0,133.8 L398.5,130.6 L398.5,137.0 Z" fill="#151515"/>
<path d="M321.7,327.5 L391,351.5 L321.7,375.3 L252.7,351.5 Z" fill="none" stroke="#151515" stroke-width="1.8"/>
<text x="322.0" y="356.5" font-size="12.4" text-anchor="middle" font-weight="500" fill="#1a1a1a" stroke="#1a1a1a" stroke-width="0.2">主题是否明确</text>
<path d="M391.0,349.5 L416.6,349.5" fill="none" stroke="#151515" stroke-width="1.6"/>
<path d="M415.4,317.6 L415.4,350.3" fill="none" stroke="#151515" stroke-width="1.6"/>
<text x="393.0" y="339.5" font-size="12.4" text-anchor="middle" font-weight="500" fill="#1a1a1a" stroke="#1a1a1a" stroke-width="0.2">否</text>
<path d="M321.7,375.3 L321.7,406.7" fill="none" stroke="#151515" stroke-width="1.6"/>
<path d="M321.7,412.7 L318.5,406.2 L324.9,406.2 Z" fill="#151515"/>
<text x="310.8" y="398.7" font-size="12.4" text-anchor="middle" font-weight="500" fill="#1a1a1a" stroke="#1a1a1a" stroke-width="0.2">是</text>
<rect x="255.4" y="412.7" width="137.2" height="27.1" rx="0" fill="none" stroke="#151515" stroke-width="1.8"/>
<text x="324.0" y="430.8" font-size="12.4" text-anchor="middle" font-weight="500" fill="#1a1a1a" stroke="#1a1a1a" stroke-width="0.2">拟定文献调研计划</text>
<path d="M320.8,439.8 L320.8,563.5 L485.7,563.5" fill="none" stroke="#151515" stroke-width="1.6"/>
<path d="M491.7,563.5 L485.2,560.3 L485.2,566.7 Z" fill="#151515"/>
<text x="307.0" y="480.5" font-size="12.4" text-anchor="end" font-weight="500" fill="#1a1a1a" stroke="#1a1a1a" stroke-width="0.2">图书</text>
<text x="307.0" y="499.5" font-size="12.4" text-anchor="end" font-weight="500" fill="#1a1a1a" stroke="#1a1a1a" stroke-width="0.2">期刊论文</text>
<text x="307.0" y="518.9" font-size="12.4" text-anchor="end" font-weight="500" fill="#1a1a1a" stroke="#1a1a1a" stroke-width="0.2">报刊、杂志</text>
<text x="307.0" y="538.1" font-size="12.4" text-anchor="end" font-weight="bold" fill="#222">Internet</text>
<text x="332.8" y="485.5" font-size="12.4" text-anchor="start" font-weight="500" fill="#1a1a1a" stroke="#1a1a1a" stroke-width="0.2">博硕士论文</text>
<text x="332.8" y="508.1" font-size="12.4" text-anchor="start" font-weight="500" fill="#1a1a1a" stroke="#1a1a1a" stroke-width="0.2">会议论文</text>
<text x="332.8" y="529.7" font-size="12.4" text-anchor="start" font-weight="500" fill="#1a1a1a" stroke="#1a1a1a" stroke-width="0.2">政府出版物</text>
<rect x="491.7" y="552.0" width="137.3" height="27.0" rx="0" fill="none" stroke="#151515" stroke-width="1.8"/>
<text x="560.4" y="570.5" font-size="12.4" text-anchor="middle" font-weight="500" fill="#1a1a1a" stroke="#1a1a1a" stroke-width="0.2">制定检索策略</text>
<path d="M563.4,552.0 L563.4,519.5" fill="none" stroke="#151515" stroke-width="1.6"/>
<path d="M563.4,513.5 L560.2,520.0 L566.6,520.0 Z" fill="#151515"/>
<rect x="491.3" y="486.7" width="137.9" height="26.8" rx="0" fill="none" stroke="#151515" stroke-width="1.8"/>
<text x="560.3" y="505.5" font-size="12.4" text-anchor="middle" font-weight="500" fill="#1a1a1a" stroke="#1a1a1a" stroke-width="0.2">文献检索</text>
<path d="M495.8,209.5 L461.0,209.5 L461.0,510.9 L485.3,510.9" fill="none" stroke="#151515" stroke-width="1.6"/>
<path d="M491.3,510.9 L484.8,507.7 L484.8,514.1 Z" fill="#151515"/>
<text x="480.5" y="232.5" font-size="12.4" text-anchor="middle" font-weight="500" fill="#1a1a1a" stroke="#1a1a1a" stroke-width="0.2">否</text>
<path d="M562.8,486.7 L562.8,393.0" fill="none" stroke="#151515" stroke-width="1.6"/>
<path d="M562.8,387.0 L559.6,393.5 L566.0,393.5 Z" fill="#151515"/>
<rect x="497.4" y="360.4" width="137.1" height="26.6" rx="0" fill="none" stroke="#151515" stroke-width="1.8"/>
<text x="566.0" y="378.5" font-size="12.4" text-anchor="middle" font-weight="500" fill="#1a1a1a" stroke="#1a1a1a" stroke-width="0.2">获取原文</text>
<path d="M563.4,360.4 L563.4,337.0" fill="none" stroke="#151515" stroke-width="1.6"/>
<path d="M563.4,331.0 L560.2,337.5 L566.6,337.5 Z" fill="#151515"/>
<rect x="499.9" y="304.0" width="137.6" height="27.0" rx="0" fill="none" stroke="#151515" stroke-width="1.8"/>
<text x="568.7" y="322.2" font-size="12.4" text-anchor="middle" font-weight="500" fill="#1a1a1a" stroke="#1a1a1a" stroke-width="0.2">浏览、评估文献</text>
<path d="M564.0,304.0 L564.0,286.3" fill="none" stroke="#151515" stroke-width="1.6"/>
<path d="M564.0,280.3 L560.8,286.8 L567.2,286.8 Z" fill="#151515"/>
<rect x="499.1" y="252.9" width="137.4" height="27.4" rx="0" fill="none" stroke="#151515" stroke-width="1.8"/>
<text x="567.8" y="271.9" font-size="12.4" text-anchor="middle" font-weight="500" fill="#1a1a1a" stroke="#1a1a1a" stroke-width="0.2">定义研究课题</text>
<path d="M564.7,252.9 L564.7,239.7" fill="none" stroke="#151515" stroke-width="1.6"/>
<path d="M564.7,233.7 L561.5,240.2 L567.9,240.2 Z" fill="#151515"/>
<path d="M564.9,186.6 L634,209.8 L564.9,233.7 L495.8,209.8 Z" fill="none" stroke="#151515" stroke-width="1.8"/>
<text x="563.5" y="214.4" font-size="12.4" text-anchor="middle" font-weight="500" fill="#1a1a1a" stroke="#1a1a1a" stroke-width="0.2">资料是否充分</text>
<path d="M563.0,186.6 L563.0,168.2" fill="none" stroke="#151515" stroke-width="1.6"/>
<path d="M563.0,162.2 L559.8,168.7 L566.2,168.7 Z" fill="#151515"/>
<text x="586.3" y="180.5" font-size="12.4" text-anchor="middle" font-weight="500" fill="#1a1a1a" stroke="#1a1a1a" stroke-width="0.2">是</text>
<path d="M498.6,139 L538.7,114.2 L593,114.2 L632,139 L593,162.2 L538.7,162.2 Z" fill="none" stroke="#151515" stroke-width="1.8"/>
<text x="566.0" y="143.8" font-size="12.4" text-anchor="middle" font-weight="500" fill="#1a1a1a" stroke="#1a1a1a" stroke-width="0.2">资料整理与筛选</text>
<path d="M479.2,139.0 L498.6,139.0" fill="none" stroke="#151515" stroke-width="1.6"/>
<rect x="443.7" y="119.3" width="35.5" height="37.2" rx="0" fill="none" stroke="#151515" stroke-width="1.8"/>
<text x="461.5" y="136.2" font-size="12.4" text-anchor="middle" font-weight="500" fill="#1a1a1a" stroke="#1a1a1a" stroke-width="0.2">无关</text>
<text x="461.5" y="150.5" font-size="12.4" text-anchor="middle" font-weight="500" fill="#1a1a1a" stroke="#1a1a1a" stroke-width="0.2">文献</text>
<path d="M462.4,156.5 L462.4,167.5" fill="none" stroke="#151515" stroke-width="1.6"/>
<ellipse cx="463" cy="183.5" rx="23.8" ry="16" fill="none" stroke="#151515" stroke-width="1.8"/>
<text x="463.0" y="188.5" font-size="12.4" text-anchor="middle" font-weight="500" fill="#1a1a1a" stroke="#1a1a1a" stroke-width="0.2">剔除</text>
<path d="M632.0,138.3 L729.7,138.3" fill="none" stroke="#151515" stroke-width="1.6"/>
<path d="M735.7,138.3 L729.2,135.1 L729.2,141.5 Z" fill="#151515"/>
<rect x="735.7" y="122.7" width="75.7" height="27.3" rx="0" fill="none" stroke="#151515" stroke-width="1.8"/>
<text x="773.5" y="142.1" font-size="12.4" text-anchor="middle" font-weight="500" fill="#1a1a1a" stroke="#1a1a1a" stroke-width="0.2">相关文献</text>
<path d="M811.4,135.8 L890.7,135.8 L890.7,161.8" fill="none" stroke="#151515" stroke-width="1.6"/>
<rect x="869.9" y="161.8" width="41.8" height="130.0" rx="0" fill="#ffffff" stroke="#151515" stroke-width="1.8"/>
<text x="890.5" y="186.4" font-size="12.4" text-anchor="middle" font-weight="500" fill="#1a1a1a" stroke="#1a1a1a" stroke-width="0.2">在个</text>
<text x="890.5" y="201.7" font-size="12.4" text-anchor="middle" font-weight="500" fill="#1a1a1a" stroke="#1a1a1a" stroke-width="0.2">人资</text>
<text x="890.5" y="217.0" font-size="12.4" text-anchor="middle" font-weight="500" fill="#1a1a1a" stroke="#1a1a1a" stroke-width="0.2">料库</text>
<text x="890.5" y="232.3" font-size="12.4" text-anchor="middle" font-weight="500" fill="#1a1a1a" stroke="#1a1a1a" stroke-width="0.2">中</text>
<text x="890.5" y="247.6" font-size="12.4" text-anchor="middle" font-weight="500" fill="#1a1a1a" stroke="#1a1a1a" stroke-width="0.2">建立</text>
<text x="890.5" y="262.9" font-size="12.4" text-anchor="middle" font-weight="500" fill="#1a1a1a" stroke="#1a1a1a" stroke-width="0.2">书目</text>
<text x="890.5" y="278.2" font-size="12.4" text-anchor="middle" font-weight="500" fill="#1a1a1a" stroke="#1a1a1a" stroke-width="0.2">记录</text>
<path d="M775.7,150.0 L775.7,199.6" fill="none" stroke="#151515" stroke-width="1.6"/>
<path d="M775.7,205.6 L772.5,199.1 L778.9,199.1 Z" fill="#151515"/>
<rect x="710.6" y="205.6" width="137.3" height="27.2" rx="0" fill="none" stroke="#151515" stroke-width="1.8"/>
<text x="779.0" y="225.0" font-size="12.4" text-anchor="middle" font-weight="500" fill="#1a1a1a" stroke="#1a1a1a" stroke-width="0.2">资料阅读与评注</text>
<path d="M847.9,222.1 L869.9,222.1" fill="none" stroke="#151515" stroke-width="1.6"/>
<path d="M779.0,232.8 L779.0,274.1" fill="none" stroke="#151515" stroke-width="1.6"/>
<path d="M779.0,280.1 L775.8,273.6 L782.2,273.6 Z" fill="#151515"/>
<rect x="710.3" y="280.1" width="137.0" height="40.3" rx="0" fill="none" stroke="#151515" stroke-width="1.8"/>
<text x="779.0" y="297.7" font-size="12.4" text-anchor="middle" font-weight="500" fill="#1a1a1a" stroke="#1a1a1a" stroke-width="0.2">分析与综合</text>
<text x="779.0" y="313.0" font-size="12.4" text-anchor="middle" font-weight="500" fill="#1a1a1a" stroke="#1a1a1a" stroke-width="0.2">形成系统资料</text>
<path d="M847.3,309.3 L890.5,309.3 L890.5,291.8" fill="none" stroke="#151515" stroke-width="1.6"/>
<path d="M779.5,320.4 L779.5,385.4" fill="none" stroke="#151515" stroke-width="1.6"/>
<path d="M779.5,391.4 L776.3,384.9 L782.7,384.9 Z" fill="#151515"/>
<rect x="728.4" y="391.4" width="105.8" height="29.8" rx="5" fill="none" stroke="#151515" stroke-width="1.8"/>
<text x="781.3" y="411.8" font-size="12.4" text-anchor="middle" font-weight="500" fill="#1a1a1a" stroke="#1a1a1a" stroke-width="0.2">撰写开题报告</text>
<path d="M834.2,402.6 L903.8,402.6 L903.8,428.2" fill="none" stroke="#151515" stroke-width="1.6"/>
<rect x="869.2" y="428.2" width="42.8" height="116.5" rx="0" fill="#ffffff" stroke="#151515" stroke-width="1.8"/>
<text x="891.0" y="468.9" font-size="12.4" text-anchor="middle" font-weight="500" fill="#1a1a1a" stroke="#1a1a1a" stroke-width="0.2">参考</text>
<text x="891.0" y="484.5" font-size="12.4" text-anchor="middle" font-weight="500" fill="#1a1a1a" stroke="#1a1a1a" stroke-width="0.2">文献</text>
<text x="891.0" y="500.1" font-size="12.4" text-anchor="middle" font-weight="500" fill="#1a1a1a" stroke="#1a1a1a" stroke-width="0.2">标注</text>
<text x="891.0" y="515.7" font-size="12.4" text-anchor="middle" font-weight="500" fill="#1a1a1a" stroke="#1a1a1a" stroke-width="0.2">方法</text>
<path d="M852.0,477.2 L852.0,359.1 L903.0,359.1 L903.0,297.8" fill="none" stroke="#151515" stroke-width="1.6"/>
<path d="M903.0,291.8 L899.8,298.3 L906.2,298.3 Z" fill="#151515"/>
<path d="M781.0,421.2 L781.0,471.2" fill="none" stroke="#151515" stroke-width="1.6"/>
<path d="M781.0,477.2 L777.8,470.7 L784.2,470.7 Z" fill="#151515"/>
<rect x="713.7" y="477.2" width="144.9" height="39.0" rx="0" fill="none" stroke="#151515" stroke-width="1.8"/>
<text x="785.8" y="494.5" font-size="12.4" text-anchor="middle" font-weight="500" fill="#1a1a1a" stroke="#1a1a1a" stroke-width="0.2">不断积累</text>
<text x="785.8" y="509.9" font-size="12.4" text-anchor="middle" font-weight="500" fill="#1a1a1a" stroke="#1a1a1a" stroke-width="0.2">持续跟踪</text>
<path d="M699.6,500.0 L713.7,500.0" fill="none" stroke="#151515" stroke-width="1.6"/>
<rect x="639.8" y="481.2" width="59.8" height="33.4" rx="0" fill="#ffffff" stroke="#151515" stroke-width="1.8" stroke-dasharray="3.5,2.2"/>
<text x="669.7" y="495.5" font-size="12.4" text-anchor="middle" font-weight="500" fill="#1a1a1a" stroke="#1a1a1a" stroke-width="0.2">补充原</text>
<text x="669.7" y="511.0" font-size="12.4" text-anchor="middle" font-weight="500" fill="#1a1a1a" stroke="#1a1a1a" stroke-width="0.2">有问题</text>
<path d="M639.8,500.5 L635.2,500.5" fill="none" stroke="#151515" stroke-width="1.6"/>
<path d="M629.2,500.5 L635.7,497.3 L635.7,503.7 Z" fill="#151515"/>
<path d="M782.0,516.2 L782.0,545.0" fill="none" stroke="#151515" stroke-width="1.6"/>
<path d="M782.0,551.0 L778.8,544.5 L785.2,544.5 Z" fill="#151515"/>
<rect x="733.2" y="551.0" width="105.9" height="30.9" rx="5" fill="none" stroke="#151515" stroke-width="1.8"/>
<text x="786.2" y="571.5" font-size="12.4" text-anchor="middle" font-weight="500" fill="#1a1a1a" stroke="#1a1a1a" stroke-width="0.2">撰写研究论文</text>
<path d="M839.1,569.6 L903.6,569.6 L903.6,544.7" fill="none" stroke="#151515" stroke-width="1.6"/>
<path d="M722.9,516.2 L722.9,598.6 L563.4,598.6" fill="none" stroke="#151515" stroke-width="1.6"/>
<rect x="402.7" y="586.7" width="160.7" height="27.3" rx="0" fill="#ffffff" stroke="#151515" stroke-width="1.8" stroke-dasharray="3.5,2.2"/>
<text x="483.0" y="604.8" font-size="14.6" text-anchor="middle" font-weight="normal" fill="#1a1a1a">发现新问题</text>
<path d="M213.5,599.6 L402.7,599.6" fill="none" stroke="#151515" stroke-width="1.6"/>
<path d="M659,301.5 L700.4,301.5 L700.4,324.5 Q690.05,319.5 679.7,325.5 Q669.35,331.5 659,328.5 Z" fill="#fbd5b9" stroke="#151515" stroke-width="1.3"/>
<path d="M655.5,304.5 L697,304.5 L697,327.5 Q686.625,322.5 676.25,328.5 Q665.875,334.5 655.5,331.5 Z" fill="#fbd5b9" stroke="#151515" stroke-width="1.3"/>
<path d="M652,307.6 L693.4,307.6 L693.4,331 Q683.05,326 672.7,332 Q662.35,338 652,335 Z" fill="#fbd5b9" stroke="#151515" stroke-width="1.3"/>
<text x="672.2" y="324.5" font-size="12.4" text-anchor="middle" font-weight="500" fill="#1a1a1a" stroke="#1a1a1a" stroke-width="0.2">他馆</text>
<path d="M634.5,369.2 L670.0,369.2 L670.0,341.0" fill="none" stroke="#151515" stroke-width="1.6"/>
<path d="M670.0,335.0 L666.8,341.5 L673.2,341.5 Z" fill="#151515"/>
<path d="M634.5,380.7 L675.6,380.7" fill="none" stroke="#151515" stroke-width="1.6"/>
<path d="M681.6,380.7 L675.1,377.5 L675.1,383.9 Z" fill="#151515"/>
<path d="M681.6,364.3 L681.6,394.4 A20.4,3 0 0 0 722.4,394.4 L722.4,364.3" fill="#fbd5b9" stroke="#151515" stroke-width="1.5"/>
<ellipse cx="702" cy="364.3" rx="20.4" ry="3" fill="#fbd5b9" stroke="#151515" stroke-width="1.5"/>
<text x="702.2" y="377.5" font-size="12.4" text-anchor="middle" font-weight="500" fill="#1a1a1a" stroke="#1a1a1a" stroke-width="0.2">本馆</text>
<text x="702.2" y="393.0" font-size="12.4" text-anchor="middle" font-weight="500" fill="#1a1a1a" stroke="#1a1a1a" stroke-width="0.2">资源</text>
<text x="558.0" y="412.7" font-size="12.4" text-anchor="end" font-weight="500" fill="#1a1a1a" stroke="#1a1a1a" stroke-width="0.2">图书馆馆藏目录</text>
<text x="558.0" y="432.9" font-size="12.4" text-anchor="end" font-weight="500" fill="#1a1a1a" stroke="#1a1a1a" stroke-width="0.2">文摘索引库</text>
<text x="558.0" y="453.1" font-size="12.4" text-anchor="end" font-weight="500" fill="#1a1a1a" stroke="#1a1a1a" stroke-width="0.2">报刊索引库</text>
<text x="558.0" y="472.5" font-size="12.4" text-anchor="end" font-weight="500" fill="#1a1a1a" stroke="#1a1a1a" stroke-width="0.2">搜索引擎</text>
<text x="570.5" y="419.7" font-size="12.4" text-anchor="start" font-weight="500" fill="#1a1a1a" stroke="#1a1a1a" stroke-width="0.2">博硕士论文文摘库</text>
<text x="570.5" y="442.1" font-size="12.4" text-anchor="start" font-weight="500" fill="#1a1a1a" stroke="#1a1a1a" stroke-width="0.2">会议论文文摘库</text>
<text x="570.5" y="463.3" font-size="12.4" text-anchor="start" font-weight="500" fill="#1a1a1a" stroke="#1a1a1a" stroke-width="0.2">政府资源导航</text>
<path d="M848.5,605.5 L905,605.5 L911.4,605.5" stroke="#222" stroke-width="1.3"/><path d="M915.6,603.9 Q924,598 929.4,590.3" fill="none" stroke="#333" stroke-width="0.8"/><circle cx="915.6" cy="603.9" r="0.9" fill="#222"/>
<clipPath id="bc"><rect x="199.5" y="68" width="60" height="541"/></clipPath>
<circle cx="209" cy="590" r="19" fill="#4f80bd" clip-path="url(#bc)"/>
<text x="210.5" y="595.0" font-size="14" text-anchor="middle" font-weight="normal" fill="#ffffff">2</text>
</g>
</svg>

<div class="abs" id="ov"></div>
<svg class="abs" style="left:0;top:0" width="1268" height="682" viewBox="0 0 1268 682">
 <rect x="915.3" y="115.7" width="118.7" height="60.1" fill="#000"/>
 <use href="#sl" transform="translate(921.9,115.7) scale(0.1109) translate(-86,-68)"/>
 <rect x="1012" y="119" width="12.8" height="9" fill="#1f1f1f"/>
 <rect x="1013" y="120.5" width="10.8" height="6.8" fill="#ddd"/>
 <path d="M945,101 H953.5 V108.5 H945 M943.5,104.8 H950 M946,102.5 L943.5,104.8 L946,107" fill="none" stroke="#d8131b" stroke-width="1.1"/>
 <text x="958.8" y="107.8" font-size="9.2" fill="#d8131b" font-family="Liberation Sans, sans-serif">停止演示</text>
 <path d="M1023,109 L1031,101 M1027.5,101 H1031 V104.5 M1023,105.5 V109 H1026.5" fill="none" stroke="#7a7a7a" stroke-width="0.9"/>
</svg>
<div class="abs side-ttl">武晋丽发起的会议</div>
<svg class="abs" style="left:1237px;top:35px" width="15" height="11" viewBox="0 0 15 11"><path d="M1,1.5 H12 M1,5.2 H8 M1,8.8 H8" stroke="#8a8a8a" stroke-width="1.2"/><path d="M10,3.5 L14,6.2 L10,9 Z" fill="#8a8a8a"/></svg>
<div class="abs" id="host">
  <div class="abs" style="left:6.3px;top:6.6px;width:33px;height:33px;background:linear-gradient(135deg,#c9c2b8 0%,#d6c4bc 40%,#a9b7c9 75%,#7f93ad 100%);border-radius:1px"></div>
  <div class="abs" style="left:46px;top:7px;color:#e8e8e8;font-size:10.5px">张小丽</div>
  <div class="abs" style="left:46px;top:24.5px;color:#8c8c8c;font-size:10px">教师</div>
  <svg class="abs" style="left:100px;top:8px" width="9" height="12" viewBox="0 0 9 12"><rect x="2.5" y="0.5" width="4" height="7" rx="2" fill="#3fcf3f"/><path d="M1,5 Q1,9 4.5,9 Q8,9 8,5" fill="none" stroke="#3fcf3f" stroke-width="1"/><path d="M4.5,9 V11.5 M2.5,11.5 H6.5" stroke="#3fcf3f" stroke-width="1"/></svg>
</div>
<svg width="0" height="0" style="position:absolute"><defs><linearGradient id="avg" x1="0" y1="0" x2="0" y2="1"><stop offset="0.5" stop-color="#000" stop-opacity="0"/><stop offset="0.62" stop-color="#000" stop-opacity="0.12"/><stop offset="1" stop-color="#000" stop-opacity="0.7"/></linearGradient></defs></svg>
<div class="abs tile" style="left:1142.9px;top:107.3px"><svg class="av" width="33" height="33" viewBox="0 0 33 33"><rect width="33" height="33" fill="#f1f1f1"/><ellipse cx="9" cy="31" rx="4" ry="2" fill="#553"/><rect width="33" height="33" fill="url(#avg)"/></svg><div class="nm">张阳玲</div></div>
<div class="abs tile" style="left:1196.1px;top:107.3px"><svg class="av" width="33" height="33" viewBox="0 0 33 33"><rect width="33" height="33" fill="#f7f7f7"/><ellipse cx="21" cy="16" rx="4.5" ry="6" transform="rotate(-25 21 16)" fill="#78b08a"/><ellipse cx="24" cy="22" rx="4" ry="2.5" fill="#6a9a78"/><ellipse cx="20" cy="24" rx="3" ry="1.5" fill="#444"/><rect width="33" height="33" fill="url(#avg)"/></svg><div class="nm">李莉</div></div>
<div class="abs tile" style="left:1142.9px;top:160.7px"><svg class="av" width="33" height="33" viewBox="0 0 33 33"><rect width="33" height="33" fill="#f8f6f2"/><ellipse cx="9" cy="23" rx="7" ry="5.5" fill="#6a4226"/><ellipse cx="10" cy="27" rx="5.5" ry="5" fill="#efdcc6"/><path d="M0,33 Q3,29 10,30 Q17,30 19,33 Z" fill="#ddd"/><ellipse cx="21" cy="19.5" rx="7.5" ry="6" fill="#4e3a2a"/><ellipse cx="21" cy="23.5" rx="5.8" ry="5.5" fill="#f2e2ce"/><path d="M12,33 Q14,28 21,28 Q29,28 31,33 Z" fill="#e4e4e4"/><circle cx="13" cy="10" r="0.8" fill="#e8e070"/><rect width="33" height="33" fill="url(#avg)"/></svg><div class="nm">娄虹</div></div>
<div class="abs tile" style="left:1196.1px;top:160.7px"><svg class="av" width="33" height="33" viewBox="0 0 33 33"><defs><linearGradient id="gwy" x1="0" y1="0" x2="0" y2="1"><stop offset="0" stop-color="#a8b6ca"/><stop offset="0.45" stop-color="#c6ccd4"/><stop offset="0.55" stop-color="#8e969e"/><stop offset="1" stop-color="#4a5058"/></linearGradient></defs><rect width="33" height="33" fill="url(#gwy)"/><rect width="33" height="33" fill="url(#avg)"/></svg><div class="nm">高文艳</div></div>
<div class="abs tile" style="left:1142.9px;top:214.1px"><svg class="av" width="33" height="33" viewBox="0 0 33 33"><rect width="33" height="33" fill="#f8f6f5"/><ellipse cx="16" cy="12" rx="7.5" ry="8" fill="#c88a6e"/><ellipse cx="16" cy="15" rx="5" ry="6" fill="#f4e6de"/><path d="M6,33 Q8,22 16,22 Q25,22 27,33 Z" fill="#bdbdbd"/><rect width="33" height="33" fill="url(#avg)"/></svg><div class="nm">于洁</div></div>
<div class="abs tile" style="left:1196.1px;top:214.1px"><svg class="av" width="33" height="33" viewBox="0 0 33 33"><defs><linearGradient id="gdh" x1="0" y1="0" x2="1" y2="1"><stop offset="0" stop-color="#3d9ae6"/><stop offset="1" stop-color="#1a3f86"/></linearGradient></defs><rect width="33" height="33" fill="url(#gdh)"/><path d="M2,8 L14,4 M0,18 L10,12 M20,3 L30,8" stroke="#9cd0f4" stroke-width="0.8"/><ellipse cx="20" cy="13" rx="7" ry="6" fill="#2a1e1e"/><ellipse cx="20" cy="17.5" rx="5.5" ry="6" fill="#f2ddd0"/><path d="M13,26 Q22,20 33,24 V33 H14 Z" fill="#a02436"/><path d="M20,33 L24,28 L30,33 Z" fill="#2a4a3a"/><rect width="33" height="33" fill="url(#avg)"/></svg><div class="nm">杜慧</div></div>
<div class="abs tile" style="left:1142.9px;top:267.5px"><svg class="av" width="33" height="33" viewBox="0 0 33 33"><defs><linearGradient id="sg3594e6" x1="0" y1="0" x2="0" y2="1"><stop offset="0" stop-color="#3594e6"/><stop offset="1" stop-color="#2a7cd0"/></linearGradient></defs><rect width="33" height="33" fill="url(#sg3594e6)"/><ellipse cx="16.5" cy="13" rx="4.6" ry="6" fill="#fff"/><path d="M6,33 Q6,22 13,20.5 L16.5,23 L20,20.5 Q27,22 27,33 Z" fill="#fff"/><rect width="33" height="33" fill="url(#avg)"/></svg><div class="nm">牛润苗</div></div>
<div class="abs tile" style="left:1196.1px;top:267.5px"><svg class="av" width="33" height="33" viewBox="0 0 33 33"><rect width="33" height="33" fill="#a4866c"/><circle cx="18" cy="15" r="11" fill="none" stroke="#cf8a90" stroke-width="2"/><ellipse cx="16" cy="17" rx="8" ry="7" fill="#c8985e"/><ellipse cx="17" cy="20" rx="3" ry="2" fill="#e8d0b0"/><ellipse cx="5" cy="12" rx="5" ry="8" fill="#c49a6a"/><rect width="33" height="33" fill="url(#avg)"/></svg><div class="nm">张晓爽</div></div>
<div class="abs tile" style="left:1142.9px;top:320.9px"><svg class="av" width="33" height="33" viewBox="0 0 33 33"><rect width="33" height="33" fill="#eadcdc"/><circle cx="6" cy="6" r="4.5" fill="#e6c4c4"/><circle cx="27" cy="6" r="4.5" fill="#e6c4c4"/><ellipse cx="16.5" cy="15" rx="13" ry="13" fill="#e4c6c0"/><ellipse cx="16" cy="12" rx="7" ry="5" fill="#2a2222"/><ellipse cx="16" cy="17" rx="6.5" ry="7" fill="#f0dcd0"/><ellipse cx="16" cy="21" rx="1.5" ry="1.2" fill="#c05050"/><path d="M4,33 Q10,25 16,26 Q24,25 30,33 Z" fill="#cfaea6"/><rect width="33" height="33" fill="url(#avg)"/></svg><div class="nm">刘雅</div></div>
<div class="abs tile" style="left:1196.1px;top:320.9px"><svg class="av" width="33" height="33" viewBox="0 0 33 33"><rect width="33" height="33" fill="#eeeaec"/><ellipse cx="20" cy="18" rx="8" ry="9" fill="#6c4636"/><ellipse cx="20" cy="21" rx="6" ry="6.5" fill="#f2dad0"/><circle cx="18" cy="21" r="1" fill="#222"/><circle cx="23" cy="21" r="1" fill="#222"/><circle cx="30" cy="24" r="1.5" fill="#222"/><rect width="33" height="33" fill="url(#avg)"/></svg><div class="nm">吴晨玉</div></div>
<div class="abs tile" style="left:1142.9px;top:374.3px"><svg class="av" width="33" height="33" viewBox="0 0 33 33"><rect width="33" height="33" fill="#f2c85a"/><circle cx="16" cy="18" r="16" fill="#f7cf52" stroke="#dba838" stroke-width="0.8"/><ellipse cx="8.5" cy="10.5" rx="3.6" ry="3" fill="#fff"/><circle cx="9" cy="10.5" r="1.9" fill="#6a3a10"/><ellipse cx="20.5" cy="10.5" rx="3.6" ry="3" fill="#fff"/><circle cx="21" cy="10.5" r="1.9" fill="#6a3a10"/><path d="M13,18 L14.5,16.5 L16,18" fill="none" stroke="#8a4a18" stroke-width="0.9"/><circle cx="4" cy="15" r="1.8" fill="#f2a080" opacity="0.6"/><rect width="33" height="33" fill="url(#avg)"/></svg><div class="nm">梁馨月</div></div>
<div class="abs tile" style="left:1196.1px;top:374.3px"><svg class="av" width="33" height="33" viewBox="0 0 33 33"><rect width="33" height="33" fill="#a89480"/><ellipse cx="4" cy="4" rx="5" ry="3" fill="#7aa060"/><ellipse cx="16" cy="15" rx="10" ry="11" fill="#f0d0b6"/><path d="M6,11 Q8,3 16,3 Q25,3 26,11 Q20,6 6,11 Z" fill="#8c6c54"/><circle cx="12.5" cy="14" r="1" fill="#333"/><circle cx="19.5" cy="14" r="1" fill="#333"/><ellipse cx="16" cy="20.5" rx="3" ry="2" fill="#a04040"/><path d="M2,33 Q8,26 16,26 Q24,26 31,33 Z" fill="#7a8a6a"/><rect width="33" height="33" fill="url(#avg)"/></svg><div class="nm">孙艺</div></div>
<div class="abs tile" style="left:1142.9px;top:427.7px"><svg class="av" width="33" height="33" viewBox="0 0 33 33"><rect width="33" height="33" fill="#eceaf0"/><ellipse cx="14" cy="10" rx="9" ry="6.5" fill="#c62a30"/><ellipse cx="15" cy="17" rx="7" ry="7" fill="#3a2a2a"/><ellipse cx="15" cy="17" rx="5.5" ry="6" fill="#f2dcd2"/><ellipse cx="15" cy="19.5" rx="4.5" ry="3" fill="#5ab8c2"/><path d="M6,33 Q8,25 15,25 Q22,25 25,33 Z" fill="#5a4050"/><rect width="33" height="33" fill="url(#avg)"/></svg><div class="nm">郑存燕</div></div>
<div class="abs tile" style="left:1196.1px;top:427.7px"><svg class="av" width="33" height="33" viewBox="0 0 33 33"><defs><linearGradient id="gwyun" x1="0" y1="0" x2="0" y2="1"><stop offset="0" stop-color="#2448b0"/><stop offset="1" stop-color="#162a70"/></linearGradient></defs><rect width="33" height="33" fill="url(#gwyun)"/><circle cx="21" cy="5" r="2.8" fill="#4a2a20"/><ellipse cx="21" cy="15" rx="8.5" ry="9.5" fill="#4a2a20"/><ellipse cx="21" cy="17" rx="6" ry="7" fill="#f4e2d6"/><ellipse cx="21" cy="21" rx="4.5" ry="3" fill="#eeeeee"/><path d="M10,33 Q12,25 21,25 Q30,25 33,30 V33 Z" fill="#5a1c20"/><circle cx="12" cy="9" r="0.7" fill="#e8c84a"/><circle cx="30" cy="14" r="0.7" fill="#e8c84a"/><circle cx="7" cy="22" r="0.7" fill="#e8c84a"/><rect width="33" height="33" fill="url(#avg)"/></svg><div class="nm">王芸</div></div>
<div class="abs tile" style="left:1142.9px;top:481.1px"><svg class="av" width="33" height="33" viewBox="0 0 33 33"><defs><linearGradient id="sg3596e8" x1="0" y1="0" x2="0" y2="1"><stop offset="0" stop-color="#3596e8"/><stop offset="1" stop-color="#2c80d4"/></linearGradient></defs><rect width="33" height="33" fill="url(#sg3596e8)"/><ellipse cx="16.5" cy="13" rx="4.6" ry="6" fill="#fff"/><path d="M6,33 Q6,22 13,20.5 L16.5,23 L20,20.5 Q27,22 27,33 Z" fill="#fff"/><rect width="33" height="33" fill="url(#avg)"/></svg><div class="nm">张文艳</div></div>
<div class="abs tile" style="left:1196.1px;top:481.1px"><svg class="av" width="33" height="33" viewBox="0 0 33 33"><rect width="33" height="33" fill="#c8bfc6"/><path d="M0,6 Q6,0 10,2 L4,10 Z" fill="#e8c8c0"/><ellipse cx="22" cy="17" rx="10" ry="12" fill="#8a4a3a"/><ellipse cx="18" cy="18" rx="7" ry="8" fill="#c08070"/><ellipse cx="16" cy="14" rx="3" ry="3" fill="#e8b8a8"/><ellipse cx="28" cy="24" rx="3" ry="5" fill="#4a2a22"/><rect width="33" height="33" fill="url(#avg)"/></svg><div class="nm">张倩倩</div></div>
<!-- window icons -->
<svg class="abs" style="left:1188px;top:1px" width="78" height="14" viewBox="1188 1 78 14">
 <path d="M1193.2,2.5 H1197.8 L1197.3,6.5 L1199.2,9.5 H1191.8 L1193.7,6.5 Z M1195.5,9.5 V13.5" fill="none" stroke="#bdbdbd" stroke-width="1"/>
 <path d="M1212,7.3 H1220.6" stroke="#bdbdbd" stroke-width="1.1"/>
 <rect x="1232.3" y="5.6" width="6.8" height="5.8" fill="none" stroke="#bdbdbd" stroke-width="1"/>
 <path d="M1234.4,5.6 V3.4 H1241.4 V9.2 H1239.1" fill="none" stroke="#bdbdbd" stroke-width="1"/>
 <path d="M1254,4.3 L1261,10.8 M1261,4.3 L1254,10.8" stroke="#bdbdbd" stroke-width="1.1"/>
</svg>
<!-- bottom toolbar -->
<div class="abs btn" style="left:16px;top:628px"></div>
<svg class="abs" style="left:22px;top:634px" width="16" height="16" viewBox="0 0 16 16"><circle cx="6" cy="5" r="2.6" fill="#ddd"/><path d="M1,12.5 Q1,8.5 6,8.5 Q11,8.5 11,12.5 Z" fill="#ddd"/><circle cx="10.5" cy="6" r="2.2" fill="#ddd"/><path d="M9,9.3 Q14.5,9 14.5,12.5 H11.5" fill="#ddd"/></svg>
<div class="abs lbl" style="left:0px;top:658.5px">参与人</div>
<div class="abs btn" style="left:572.5px;top:628.3px"></div>
<svg class="abs" style="left:579px;top:634px" width="16" height="16" viewBox="0 0 16 16"><rect x="2" y="3" width="12" height="8.5" fill="#e6e6e6"/><path d="M5,13.5 H11" stroke="#e6e6e6" stroke-width="1"/><path d="M6,9 Q6.5,6.3 9.5,6.3 V5 L11.5,7 L9.5,9 V7.7 Q7.5,7.7 6,9Z" fill="#444"/></svg>
<div class="abs lbl" style="left:556px;top:658.5px">屏幕演示</div>
<div class="abs btn" style="left:617.2px;top:628.3px"></div>
<svg class="abs" style="left:623.5px;top:634px" width="16" height="16" viewBox="0 0 16 16"><path d="M2,3.5 H6.5 L7.5,5 H14 V12.5 H2 Z" fill="#e6e6e6"/><path d="M6,10.5 Q6.5,7.8 9.5,7.8 V6.5 L11.5,8.5 L9.5,10.5 V9.2 Q7.5,9.2 6,10.5Z" fill="#444"/></svg>
<div class="abs lbl" style="left:601px;top:658.5px">文档演示</div>
<div class="abs btn" style="left:662px;top:628.3px"></div>
<svg class="abs" style="left:668px;top:634px" width="16" height="16" viewBox="0 0 16 16"><rect x="6" y="1.5" width="4" height="8" rx="2" fill="#e6e6e6"/><path d="M4,7.5 Q4,11 8,11 Q12,11 12,7.5" fill="none" stroke="#e6e6e6" stroke-width="1"/><path d="M8,11 V13 M5,13.5 H11" stroke="#e6e6e6" stroke-width="1"/><path d="M3.5,1 L12.5,14" stroke="#b01818" stroke-width="1.3"/></svg>
<div class="abs lbl" style="left:646px;top:658.5px">解除静音</div>
<!-- network widget -->
<svg class="abs" style="left:1155px;top:562px" width="85" height="44" viewBox="1155 562 85 44">
 <rect x="1183" y="570.2" width="53.5" height="27" rx="13.5" fill="#262a30"/>
 <path d="M1194,583.7 H1234" stroke="#1d2024" stroke-width="0.8"/>
 <circle cx="1178" cy="583.7" r="19.5" fill="#262a31" stroke="#1f2227" stroke-width="1"/>
 <path d="M1178.5,566.5 A17.2,17.2 0 0 1 1190,596" fill="none" stroke="#34c1a5" stroke-width="1.2"/>
 <path d="M1190,596 A17.2,17.2 0 0 1 1162,590" fill="none" stroke="#e6b33a" stroke-width="1.2"/>
 <text x="1165" y="589.5" font-size="15" fill="#d9d9d9" font-family="Liberation Sans, sans-serif">73</text>
 <text x="1184" y="589.5" font-size="7" fill="#d9d9d9" font-family="Liberation Sans, sans-serif">%</text>
 <path d="M1202,574.5 L1204.2,577 H1203 V579 H1201 V577 H1199.8 Z" fill="#3aa3e0"/>
 <path d="M1202,592 L1204.2,589.5 H1203 V587.5 H1201 V589.5 H1199.8 Z" fill="#2ebf3a"/>
 <text x="1210" y="579.6" font-size="7.5" fill="#e8e8e8" font-weight="bold" font-family="Liberation Sans, sans-serif">4.6<tspan font-weight="normal" fill="#9a9a9a">K/s</tspan></text>
 <text x="1208" y="593" font-size="7.5" fill="#e8e8e8" font-weight="bold" font-family="Liberation Sans, sans-serif">213<tspan font-weight="normal" fill="#9a9a9a">K/s</tspan></text>
</svg>
<div class="abs" style="left:1219px;top:628.5px;width:27px;height:27px;border-radius:50%;background:#f24c4f"></div>
<svg class="abs" style="left:1225px;top:634.5px" width="15" height="15" viewBox="0 0 15 15"><path d="M4.6,4.2 A4.6,4.6 0 1 0 10.4,4.2" fill="none" stroke="#fff" stroke-width="1.4"/><path d="M7.5,2 V7.3" stroke="#fff" stroke-width="1.4"/></svg>
<div class="abs lbl" style="left:1202.5px;top:658.5px">结束</div>
</body></html>
